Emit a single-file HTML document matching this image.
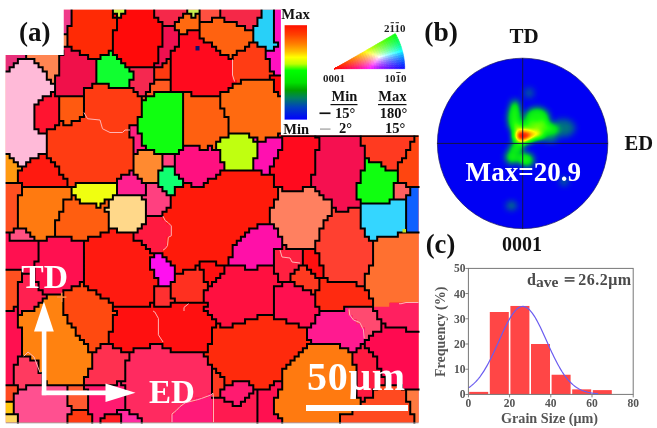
<!DOCTYPE html><html><head><meta charset="utf-8"><style>html,body{margin:0;padding:0;background:#fff;width:657px;height:428px;overflow:hidden}svg{display:block;filter:blur(0.4px)}text{font-family:'Liberation Serif',serif;font-weight:bold}</style></head><body>
<svg width="657" height="428" viewBox="0 0 657 428">
<defs>
<filter id="pf" x="0" y="0" width="1" height="1" color-interpolation-filters="sRGB"><feGaussianBlur stdDeviation="3.2"/><feComponentTransfer><feFuncR type="table" tableValues="0 0 0 0.1 0.45 1 1 1 1 0.85"/><feFuncG type="table" tableValues="0 0.4 0.88 1 1 1 0.7 0.3 0 0"/><feFuncB type="table" tableValues="0.96 0.55 0.12 0.04 0 0 0 0 0 0"/></feComponentTransfer></filter>
<clipPath id="pc"><circle cx="522.6" cy="143.4" r="85.2"/></clipPath>
<linearGradient id="cb" x1="0" y1="0" x2="0" y2="1"><stop offset="0" stop-color="#ff1000"/><stop offset="0.10" stop-color="#ff4000"/><stop offset="0.20" stop-color="#ff8000"/><stop offset="0.28" stop-color="#ffc000"/><stop offset="0.34" stop-color="#ffff00"/><stop offset="0.41" stop-color="#c0ff00"/><stop offset="0.48" stop-color="#00ff00"/><stop offset="0.61" stop-color="#00e000"/><stop offset="0.69" stop-color="#00a000"/><stop offset="0.77" stop-color="#008060"/><stop offset="0.87" stop-color="#0040c0"/><stop offset="1" stop-color="#0000ff"/></linearGradient>
<clipPath id="mc"><rect x="5.5" y="9.5" width="413" height="413"/></clipPath>
</defs>
<rect x="5.5" y="9.5" width="413" height="413" fill="#ff0d0d"/>
<g>
<path fill="#ff0d0d" d="M5.5 9.5h33.06v4.15h-33.06zM306.99 9.5h111.53v4.15h-111.53zM5.5 13.63h33.06v4.15h-33.06zM306.99 13.63h111.53v4.15h-111.53zM5.5 17.76h33.06v4.15h-33.06zM306.99 17.76h111.53v4.15h-111.53zM5.5 21.89h33.06v4.15h-33.06zM306.99 21.89h111.53v4.15h-111.53zM306.99 26.02h111.53v4.15h-111.53zM306.99 30.15h111.53v4.15h-111.53zM306.99 34.28h111.53v4.15h-111.53zM306.99 38.41h111.53v4.15h-111.53zM306.99 42.54h111.53v4.15h-111.53zM306.99 46.67h111.53v4.15h-111.53zM306.99 50.8h111.53v4.15h-111.53zM306.99 54.93h111.53v4.15h-111.53zM306.99 59.06h111.53v4.15h-111.53zM306.99 63.19h111.53v4.15h-111.53zM306.99 67.32h111.53v4.15h-111.53zM306.99 71.45h111.53v4.15h-111.53zM306.99 75.58h111.53v4.15h-111.53zM306.99 79.71h111.53v4.15h-111.53zM306.99 83.84h111.53v4.15h-111.53zM306.99 87.97h111.53v4.15h-111.53zM306.99 92.1h111.53v4.15h-111.53zM306.99 96.23h111.53v4.15h-111.53zM306.99 100.36h111.53v4.15h-111.53zM306.99 104.49h111.53v4.15h-111.53z"/>
<path fill="#f03a8a" d="M38.54 9.5h33.06v4.15h-33.06zM38.54 13.63h33.06v4.15h-33.06zM38.54 17.76h33.06v4.15h-33.06zM38.54 21.89h33.06v4.15h-33.06zM38.54 26.02h28.93v4.15h-28.93zM42.67 30.15h24.8v4.15h-24.8z"/>
<path fill="#ff2a05" d="M71.58 9.5h41.32v4.15h-41.32zM71.58 13.63h41.32v4.15h-41.32zM71.58 17.76h45.45v4.15h-45.45zM71.58 21.89h45.45v4.15h-45.45zM67.45 26.02h49.58v4.15h-49.58zM67.45 30.15h45.45v4.15h-45.45zM67.45 34.28h45.45v4.15h-45.45zM67.45 38.41h45.45v4.15h-45.45zM67.45 42.54h45.45v4.15h-45.45zM71.58 46.67h41.32v4.15h-41.32zM79.84 50.8h28.93v4.15h-28.93zM88.1 54.93h12.41v4.15h-12.41z"/>
<path fill="#c8f040" d="M112.88 9.5h12.41v4.15h-12.41zM117.01 13.63h4.15v4.15h-4.15z"/>
<path fill="#ff0a0a" d="M125.27 9.5h28.93v4.15h-28.93zM112.88 13.63h4.15v4.15h-4.15zM121.14 13.63h33.06v4.15h-33.06zM117.01 17.76h41.32v4.15h-41.32zM117.01 21.89h45.45v4.15h-45.45zM117.01 26.02h45.45v4.15h-45.45zM112.88 30.15h49.58v4.15h-49.58zM112.88 34.28h49.58v4.15h-49.58zM112.88 38.41h49.58v4.15h-49.58zM112.88 42.54h49.58v4.15h-49.58zM112.88 46.67h45.45v4.15h-45.45zM112.88 50.8h45.45v4.15h-45.45zM117.01 54.93h41.32v4.15h-41.32zM121.14 59.06h37.19v4.15h-37.19zM125.27 63.19h28.93v4.15h-28.93zM269.82 75.58h37.19v4.15h-37.19zM273.95 79.71h33.06v4.15h-33.06zM273.95 83.84h33.06v4.15h-33.06zM273.95 87.97h33.06v4.15h-33.06zM278.08 92.1h28.93v4.15h-28.93z"/>
<path fill="#f5284a" d="M154.18 9.5h33.06v4.15h-33.06zM154.18 13.63h28.93v4.15h-28.93zM158.31 17.76h20.67v4.15h-20.67zM162.44 21.89h12.41v4.15h-12.41z"/>
<path fill="#c8f050" d="M187.22 9.5h12.41v4.15h-12.41zM191.35 13.63h4.15v4.15h-4.15z"/>
<path fill="#ff5040" d="M199.61 9.5h20.67v4.15h-20.67zM199.61 13.63h20.67v4.15h-20.67zM199.61 17.76h12.41v4.15h-12.41z"/>
<path fill="#f52848" d="M220.26 9.5h41.32v4.15h-41.32zM220.26 13.63h41.32v4.15h-41.32zM224.39 17.76h33.06v4.15h-33.06zM236.78 21.89h20.67v4.15h-20.67zM245.04 26.02h8.28v4.15h-8.28z"/>
<path fill="#28d0f8" d="M261.56 9.5h12.41v4.15h-12.41zM261.56 13.63h12.41v4.15h-12.41zM257.43 17.76h16.54v4.15h-16.54zM257.43 21.89h16.54v4.15h-16.54zM253.3 26.02h20.67v4.15h-20.67zM253.3 30.15h20.67v4.15h-20.67zM253.3 34.28h20.67v4.15h-20.67zM253.3 38.41h20.67v4.15h-20.67zM257.43 42.54h20.67v4.15h-20.67zM265.69 46.67h8.28v4.15h-8.28z"/>
<path fill="#ff10c0" d="M273.95 9.5h33.06v4.15h-33.06zM273.95 13.63h33.06v4.15h-33.06zM273.95 17.76h33.06v4.15h-33.06zM273.95 21.89h33.06v4.15h-33.06zM273.95 26.02h33.06v4.15h-33.06zM273.95 30.15h33.06v4.15h-33.06zM273.95 34.28h33.06v4.15h-33.06zM273.95 38.41h33.06v4.15h-33.06zM278.08 42.54h28.93v4.15h-28.93zM273.95 46.67h33.06v4.15h-33.06zM265.69 50.8h41.32v4.15h-41.32zM265.69 54.93h41.32v4.15h-41.32zM269.82 59.06h37.19v4.15h-37.19zM269.82 63.19h37.19v4.15h-37.19zM269.82 67.32h37.19v4.15h-37.19zM273.95 71.45h33.06v4.15h-33.06z"/>
<path fill="#ff6a10" d="M183.09 13.63h8.28v4.15h-8.28zM195.48 13.63h4.15v4.15h-4.15zM178.96 17.76h20.67v4.15h-20.67zM174.83 21.89h24.8v4.15h-24.8zM174.83 26.02h24.8v4.15h-24.8zM178.96 30.15h8.28v4.15h-8.28zM240.91 79.71h33.06v4.15h-33.06zM232.65 83.84h41.32v4.15h-41.32zM228.52 87.97h45.45v4.15h-45.45zM220.26 92.1h57.84v4.15h-57.84zM220.26 96.23h86.75v4.15h-86.75zM220.26 100.36h86.75v4.15h-86.75zM220.26 104.49h86.75v4.15h-86.75zM224.39 108.62h78.49v4.15h-78.49zM224.39 112.75h74.36v4.15h-74.36zM228.52 116.88h66.1v4.15h-66.1zM228.52 121.01h61.97v4.15h-61.97zM228.52 125.14h57.84v4.15h-57.84zM228.52 129.27h53.71v4.15h-53.71zM249.17 133.4h28.93v4.15h-28.93zM257.43 137.53h8.28v4.15h-8.28z"/>
<path fill="#ff6210" d="M212 17.76h12.41v4.15h-12.41zM199.61 21.89h37.19v4.15h-37.19zM199.61 26.02h45.45v4.15h-45.45zM199.61 30.15h53.71v4.15h-53.71zM199.61 34.28h53.71v4.15h-53.71zM203.74 38.41h49.58v4.15h-49.58zM212 42.54h37.19v4.15h-37.19zM216.13 46.67h28.93v4.15h-28.93zM220.26 50.8h16.54v4.15h-16.54zM228.52 54.93h4.15v4.15h-4.15z"/>
<path fill="#e8307a" d="M5.5 26.02h20.67v4.15h-20.67zM5.5 30.15h20.67v4.15h-20.67zM5.5 34.28h20.67v4.15h-20.67zM5.5 38.41h20.67v4.15h-20.67zM5.5 42.54h20.67v4.15h-20.67zM5.5 46.67h20.67v4.15h-20.67zM5.5 50.8h20.67v4.15h-20.67zM5.5 54.93h20.67v4.15h-20.67zM5.5 59.06h12.41v4.15h-12.41zM5.5 63.19h8.28v4.15h-8.28zM5.5 67.32h4.15v4.15h-4.15z"/>
<path fill="#ff8552" d="M26.15 26.02h12.41v4.15h-12.41zM26.15 30.15h16.54v4.15h-16.54zM26.15 34.28h41.32v4.15h-41.32zM26.15 38.41h41.32v4.15h-41.32zM26.15 42.54h41.32v4.15h-41.32zM26.15 46.67h33.06v4.15h-33.06zM26.15 50.8h37.19v4.15h-37.19zM26.15 54.93h33.06v4.15h-33.06zM34.41 59.06h24.8v4.15h-24.8zM38.54 63.19h20.67v4.15h-20.67zM42.67 67.32h16.54v4.15h-16.54zM46.8 71.45h12.41v4.15h-12.41zM46.8 75.58h8.28v4.15h-8.28zM50.93 79.71h4.15v4.15h-4.15z"/>
<path fill="#f01050" d="M162.44 26.02h12.41v4.15h-12.41zM162.44 30.15h16.54v4.15h-16.54zM162.44 34.28h16.54v4.15h-16.54zM162.44 38.41h16.54v4.15h-16.54zM162.44 42.54h16.54v4.15h-16.54zM158.31 46.67h16.54v4.15h-16.54zM158.31 50.8h12.41v4.15h-12.41zM158.31 54.93h12.41v4.15h-12.41zM158.31 59.06h8.28v4.15h-8.28zM154.18 63.19h8.28v4.15h-8.28z"/>
<path fill="#ff0a1e" d="M187.22 30.15h12.41v4.15h-12.41zM178.96 34.28h20.67v4.15h-20.67zM178.96 38.41h24.8v4.15h-24.8zM178.96 42.54h33.06v4.15h-33.06zM174.83 46.67h41.32v4.15h-41.32zM170.7 50.8h49.58v4.15h-49.58zM170.7 54.93h57.84v4.15h-57.84zM170.7 59.06h61.97v4.15h-61.97zM170.7 63.19h61.97v4.15h-61.97zM170.7 67.32h61.97v4.15h-61.97zM170.7 71.45h61.97v4.15h-61.97zM170.7 75.58h61.97v4.15h-61.97zM170.7 79.71h66.1v4.15h-66.1zM170.7 83.84h61.97v4.15h-61.97zM170.7 87.97h57.84v4.15h-57.84zM191.35 92.1h28.93v4.15h-28.93zM302.86 108.62h12.41v4.15h-12.41zM298.73 112.75h16.54v4.15h-16.54zM294.6 116.88h20.67v4.15h-20.67zM290.47 121.01h24.8v4.15h-24.8zM286.34 125.14h28.93v4.15h-28.93zM282.21 129.27h33.06v4.15h-33.06zM278.08 133.4h37.19v4.15h-37.19zM282.21 137.53h37.19v4.15h-37.19zM282.21 141.66h37.19v4.15h-37.19zM282.21 145.79h37.19v4.15h-37.19zM278.08 149.92h37.19v4.15h-37.19zM278.08 154.05h37.19v4.15h-37.19zM273.95 158.18h41.32v4.15h-41.32zM273.95 162.31h41.32v4.15h-41.32zM269.82 166.44h45.45v4.15h-45.45zM269.82 170.57h45.45v4.15h-45.45zM273.95 174.7h37.19v4.15h-37.19zM273.95 178.83h37.19v4.15h-37.19zM273.95 182.96h37.19v4.15h-37.19zM282.21 187.09h20.67v4.15h-20.67z"/>
<path fill="#ff3c14" d="M249.17 42.54h8.28v4.15h-8.28zM245.04 46.67h20.67v4.15h-20.67zM236.78 50.8h28.93v4.15h-28.93zM232.65 54.93h33.06v4.15h-33.06zM232.65 59.06h37.19v4.15h-37.19zM232.65 63.19h37.19v4.15h-37.19zM232.65 67.32h37.19v4.15h-37.19zM232.65 71.45h41.32v4.15h-41.32zM232.65 75.58h37.19v4.15h-37.19zM236.78 79.71h4.15v4.15h-4.15z"/>
<path fill="#f0104a" d="M59.19 46.67h12.41v4.15h-12.41zM63.32 50.8h16.54v4.15h-16.54zM59.19 54.93h28.93v4.15h-28.93zM59.19 59.06h37.19v4.15h-37.19zM59.19 63.19h37.19v4.15h-37.19zM59.19 67.32h37.19v4.15h-37.19zM59.19 71.45h37.19v4.15h-37.19zM55.06 75.58h41.32v4.15h-41.32zM55.06 79.71h41.32v4.15h-41.32zM55.06 83.84h37.19v4.15h-37.19zM55.06 87.97h28.93v4.15h-28.93zM55.06 92.1h28.93v4.15h-28.93z"/>
<path fill="#10ff30" d="M108.75 50.8h4.15v4.15h-4.15zM100.49 54.93h16.54v4.15h-16.54zM96.36 59.06h24.8v4.15h-24.8zM96.36 63.19h28.93v4.15h-28.93zM96.36 67.32h33.06v4.15h-33.06zM96.36 71.45h37.19v4.15h-37.19zM96.36 75.58h37.19v4.15h-37.19zM96.36 79.71h33.06v4.15h-33.06zM108.75 83.84h20.67v4.15h-20.67z"/>
<path fill="#ffbad8" d="M17.89 59.06h16.54v4.15h-16.54zM13.76 63.19h24.8v4.15h-24.8zM9.63 67.32h33.06v4.15h-33.06zM5.5 71.45h41.32v4.15h-41.32zM5.5 75.58h41.32v4.15h-41.32zM5.5 79.71h45.45v4.15h-45.45zM5.5 83.84h49.58v4.15h-49.58zM5.5 87.97h49.58v4.15h-49.58zM5.5 92.1h45.45v4.15h-45.45zM5.5 96.23h37.19v4.15h-37.19zM5.5 100.36h33.06v4.15h-33.06zM5.5 104.49h28.93v4.15h-28.93zM5.5 108.62h28.93v4.15h-28.93zM5.5 112.75h28.93v4.15h-28.93zM5.5 116.88h28.93v4.15h-28.93zM5.5 121.01h28.93v4.15h-28.93zM5.5 125.14h28.93v4.15h-28.93zM5.5 129.27h33.06v4.15h-33.06zM5.5 133.4h41.32v4.15h-41.32zM5.5 137.53h41.32v4.15h-41.32zM5.5 141.66h41.32v4.15h-41.32zM5.5 145.79h41.32v4.15h-41.32zM5.5 149.92h41.32v4.15h-41.32zM9.63 154.05h28.93v4.15h-28.93zM13.76 158.18h16.54v4.15h-16.54zM17.89 162.31h8.28v4.15h-8.28z"/>
<path fill="#ff3a10" d="M166.57 59.06h4.15v4.15h-4.15zM162.44 63.19h8.28v4.15h-8.28zM154.18 67.32h16.54v4.15h-16.54zM154.18 71.45h16.54v4.15h-16.54zM154.18 75.58h16.54v4.15h-16.54zM71.58 410.11h16.54v4.15h-16.54zM67.45 414.24h24.8v4.15h-24.8zM67.45 418.37h24.8v4.15h-24.8z"/>
<path fill="#f52850" d="M129.4 67.32h24.8v4.15h-24.8zM133.53 71.45h20.67v4.15h-20.67zM133.53 75.58h20.67v4.15h-20.67zM129.4 79.71h24.8v4.15h-24.8zM129.4 83.84h20.67v4.15h-20.67zM133.53 87.97h16.54v4.15h-16.54zM137.66 92.1h8.28v4.15h-8.28z"/>
<path fill="#ff5a20" d="M154.18 79.71h16.54v4.15h-16.54zM150.05 83.84h20.67v4.15h-20.67zM150.05 87.97h20.67v4.15h-20.67zM145.92 92.1h8.28v4.15h-8.28zM141.79 96.23h4.15v4.15h-4.15z"/>
<path fill="#ff3c12" d="M92.23 83.84h16.54v4.15h-16.54zM83.97 87.97h49.58v4.15h-49.58zM83.97 92.1h53.71v4.15h-53.71zM83.97 96.23h57.84v4.15h-57.84zM83.97 100.36h57.84v4.15h-57.84zM83.97 104.49h57.84v4.15h-57.84zM83.97 108.62h57.84v4.15h-57.84zM83.97 112.75h57.84v4.15h-57.84zM79.84 116.88h57.84v4.15h-57.84zM59.19 121.01h4.15v4.15h-4.15zM71.58 121.01h66.1v4.15h-66.1zM55.06 125.14h74.36v4.15h-74.36zM46.8 129.27h82.62v4.15h-82.62zM46.8 133.4h82.62v4.15h-82.62zM46.8 137.53h86.75v4.15h-86.75zM46.8 141.66h86.75v4.15h-86.75zM46.8 145.79h86.75v4.15h-86.75zM46.8 149.92h86.75v4.15h-86.75zM46.8 154.05h86.75v4.15h-86.75zM50.93 158.18h82.62v4.15h-82.62zM55.06 162.31h78.49v4.15h-78.49zM59.19 166.44h74.36v4.15h-74.36zM59.19 170.57h70.23v4.15h-70.23zM63.32 174.7h57.84v4.15h-57.84zM67.45 178.83h49.58v4.15h-49.58zM67.45 182.96h8.28v4.15h-8.28z"/>
<path fill="#ff1430" d="M50.93 92.1h4.15v4.15h-4.15zM42.67 96.23h16.54v4.15h-16.54zM38.54 100.36h20.67v4.15h-20.67zM34.41 104.49h24.8v4.15h-24.8zM34.41 108.62h24.8v4.15h-24.8zM34.41 112.75h24.8v4.15h-24.8zM34.41 116.88h24.8v4.15h-24.8zM34.41 121.01h24.8v4.15h-24.8zM34.41 125.14h20.67v4.15h-20.67zM38.54 129.27h8.28v4.15h-8.28z"/>
<path fill="#10ff10" d="M154.18 92.1h28.93v4.15h-28.93zM145.92 96.23h37.19v4.15h-37.19zM141.79 100.36h41.32v4.15h-41.32zM141.79 104.49h41.32v4.15h-41.32zM141.79 108.62h41.32v4.15h-41.32zM141.79 112.75h41.32v4.15h-41.32zM137.66 116.88h45.45v4.15h-45.45zM137.66 121.01h45.45v4.15h-45.45zM137.66 125.14h45.45v4.15h-45.45zM137.66 129.27h45.45v4.15h-45.45zM141.79 133.4h41.32v4.15h-41.32zM141.79 137.53h41.32v4.15h-41.32zM141.79 141.66h41.32v4.15h-41.32zM145.92 145.79h37.19v4.15h-37.19zM154.18 149.92h24.8v4.15h-24.8zM364.81 158.18h4.15v4.15h-4.15zM364.81 162.31h16.54v4.15h-16.54zM364.81 166.44h20.67v4.15h-20.67zM360.68 170.57h37.19v4.15h-37.19zM360.68 174.7h37.19v4.15h-37.19zM360.68 178.83h37.19v4.15h-37.19zM356.55 182.96h37.19v4.15h-37.19zM356.55 187.09h37.19v4.15h-37.19zM356.55 191.22h37.19v4.15h-37.19zM356.55 195.35h37.19v4.15h-37.19zM360.68 199.48h28.93v4.15h-28.93z"/>
<path fill="#ff6010" d="M183.09 92.1h8.28v4.15h-8.28zM183.09 96.23h37.19v4.15h-37.19zM183.09 100.36h37.19v4.15h-37.19zM183.09 104.49h37.19v4.15h-37.19zM183.09 108.62h41.32v4.15h-41.32zM183.09 112.75h41.32v4.15h-41.32zM183.09 116.88h45.45v4.15h-45.45zM183.09 121.01h45.45v4.15h-45.45zM183.09 125.14h45.45v4.15h-45.45zM183.09 129.27h45.45v4.15h-45.45zM183.09 133.4h45.45v4.15h-45.45zM183.09 137.53h37.19v4.15h-37.19zM183.09 141.66h33.06v4.15h-33.06zM199.61 145.79h8.28v4.15h-8.28zM212 145.79h4.15v4.15h-4.15z"/>
<path fill="#ff5a10" d="M59.19 96.23h24.8v4.15h-24.8zM59.19 100.36h24.8v4.15h-24.8zM59.19 104.49h24.8v4.15h-24.8zM59.19 108.62h24.8v4.15h-24.8zM59.19 112.75h24.8v4.15h-24.8zM59.19 116.88h20.67v4.15h-20.67zM63.32 121.01h8.28v4.15h-8.28z"/>
<path fill="#f51050" d="M315.25 108.62h45.45v4.15h-45.45zM315.25 112.75h45.45v4.15h-45.45zM315.25 116.88h45.45v4.15h-45.45zM315.25 121.01h45.45v4.15h-45.45zM315.25 125.14h45.45v4.15h-45.45zM315.25 129.27h45.45v4.15h-45.45zM315.25 133.4h45.45v4.15h-45.45zM319.38 137.53h41.32v4.15h-41.32zM319.38 141.66h41.32v4.15h-41.32zM319.38 145.79h45.45v4.15h-45.45zM315.25 149.92h49.58v4.15h-49.58zM315.25 154.05h49.58v4.15h-49.58zM315.25 158.18h49.58v4.15h-49.58zM315.25 162.31h49.58v4.15h-49.58zM315.25 166.44h49.58v4.15h-49.58zM315.25 170.57h45.45v4.15h-45.45zM311.12 174.7h49.58v4.15h-49.58zM311.12 178.83h49.58v4.15h-49.58zM311.12 182.96h45.45v4.15h-45.45zM315.25 187.09h41.32v4.15h-41.32zM319.38 191.22h37.19v4.15h-37.19zM323.51 195.35h33.06v4.15h-33.06zM331.77 199.48h28.93v4.15h-28.93zM331.77 203.61h28.93v4.15h-28.93zM335.9 207.74h12.41v4.15h-12.41z"/>
<path fill="#ff3a20" d="M360.68 108.62h53.71v4.15h-53.71zM360.68 112.75h53.71v4.15h-53.71zM360.68 116.88h53.71v4.15h-53.71zM360.68 121.01h53.71v4.15h-53.71zM360.68 125.14h53.71v4.15h-53.71zM360.68 129.27h53.71v4.15h-53.71zM360.68 133.4h53.71v4.15h-53.71zM360.68 137.53h53.71v4.15h-53.71zM360.68 141.66h49.58v4.15h-49.58zM364.81 145.79h45.45v4.15h-45.45zM364.81 149.92h41.32v4.15h-41.32zM364.81 154.05h41.32v4.15h-41.32zM368.94 158.18h33.06v4.15h-33.06zM381.33 162.31h16.54v4.15h-16.54zM385.46 166.44h12.41v4.15h-12.41zM298.73 265.56h8.28v4.15h-8.28zM294.6 269.69h16.54v4.15h-16.54zM290.47 273.82h24.8v4.15h-24.8zM290.47 277.95h28.93v4.15h-28.93zM294.6 282.08h24.8v4.15h-24.8zM302.86 286.21h16.54v4.15h-16.54zM311.12 290.34h4.15v4.15h-4.15zM212 368.81h4.15v4.15h-4.15zM212 372.94h8.28v4.15h-8.28zM212 377.07h12.41v4.15h-12.41zM212 381.2h12.41v4.15h-12.41zM212 385.33h12.41v4.15h-12.41zM212 389.46h8.28v4.15h-8.28zM212 393.59h8.28v4.15h-8.28z"/>
<path fill="#ff4510" d="M414.37 108.62h4.15v4.15h-4.15zM414.37 112.75h4.15v4.15h-4.15zM414.37 116.88h4.15v4.15h-4.15zM414.37 121.01h4.15v4.15h-4.15zM414.37 125.14h4.15v4.15h-4.15zM414.37 129.27h4.15v4.15h-4.15zM414.37 133.4h4.15v4.15h-4.15zM414.37 137.53h4.15v4.15h-4.15zM410.24 141.66h8.28v4.15h-8.28zM410.24 145.79h8.28v4.15h-8.28zM406.11 149.92h12.41v4.15h-12.41zM406.11 154.05h12.41v4.15h-12.41zM401.98 158.18h16.54v4.15h-16.54zM397.85 162.31h20.67v4.15h-20.67zM397.85 166.44h20.67v4.15h-20.67zM397.85 170.57h20.67v4.15h-20.67zM397.85 174.7h20.67v4.15h-20.67zM397.85 178.83h20.67v4.15h-20.67zM406.11 182.96h12.41v4.15h-12.41z"/>
<path fill="#ff2080" d="M129.4 125.14h8.28v4.15h-8.28zM129.4 129.27h8.28v4.15h-8.28zM129.4 133.4h12.41v4.15h-12.41zM133.53 137.53h8.28v4.15h-8.28zM133.53 141.66h8.28v4.15h-8.28zM133.53 145.79h12.41v4.15h-12.41zM133.53 149.92h4.15v4.15h-4.15z"/>
<path fill="#c0ff10" d="M228.52 133.4h20.67v4.15h-20.67zM220.26 137.53h33.06v4.15h-33.06zM216.13 141.66h41.32v4.15h-41.32zM216.13 145.79h41.32v4.15h-41.32zM220.26 149.92h37.19v4.15h-37.19zM220.26 154.05h37.19v4.15h-37.19zM220.26 158.18h33.06v4.15h-33.06zM224.39 162.31h28.93v4.15h-28.93zM224.39 166.44h28.93v4.15h-28.93z"/>
<path fill="#ff10b0" d="M253.3 137.53h4.15v4.15h-4.15zM265.69 137.53h16.54v4.15h-16.54zM257.43 141.66h24.8v4.15h-24.8zM257.43 145.79h24.8v4.15h-24.8zM257.43 149.92h20.67v4.15h-20.67zM257.43 154.05h20.67v4.15h-20.67zM253.3 158.18h20.67v4.15h-20.67zM253.3 162.31h20.67v4.15h-20.67zM253.3 166.44h16.54v4.15h-16.54zM261.56 170.57h8.28v4.15h-8.28z"/>
<path fill="#ff1080" d="M183.09 145.79h16.54v4.15h-16.54zM207.87 145.79h4.15v4.15h-4.15zM178.96 149.92h41.32v4.15h-41.32zM174.83 154.05h45.45v4.15h-45.45zM174.83 158.18h45.45v4.15h-45.45zM174.83 162.31h49.58v4.15h-49.58zM174.83 166.44h49.58v4.15h-49.58zM174.83 170.57h45.45v4.15h-45.45zM178.96 174.7h37.19v4.15h-37.19zM183.09 178.83h24.8v4.15h-24.8zM191.35 182.96h12.41v4.15h-12.41z"/>
<path fill="#ff8a30" d="M137.66 149.92h16.54v4.15h-16.54zM133.53 154.05h28.93v4.15h-28.93zM133.53 158.18h28.93v4.15h-28.93zM133.53 162.31h28.93v4.15h-28.93zM133.53 166.44h28.93v4.15h-28.93zM133.53 170.57h24.8v4.15h-24.8zM137.66 174.7h20.67v4.15h-20.67zM141.79 178.83h16.54v4.15h-16.54z"/>
<path fill="#ff9a10" d="M5.5 154.05h4.15v4.15h-4.15zM5.5 158.18h8.28v4.15h-8.28zM5.5 162.31h12.41v4.15h-12.41zM5.5 166.44h16.54v4.15h-16.54zM5.5 170.57h12.41v4.15h-12.41zM5.5 174.7h12.41v4.15h-12.41zM5.5 178.83h12.41v4.15h-12.41z"/>
<path fill="#ff1a10" d="M38.54 154.05h8.28v4.15h-8.28zM30.28 158.18h20.67v4.15h-20.67zM26.15 162.31h28.93v4.15h-28.93zM22.02 166.44h37.19v4.15h-37.19zM17.89 170.57h41.32v4.15h-41.32zM17.89 174.7h45.45v4.15h-45.45zM17.89 178.83h49.58v4.15h-49.58zM22.02 182.96h45.45v4.15h-45.45zM108.75 228.39h8.28v4.15h-8.28zM100.49 232.52h33.06v4.15h-33.06zM88.1 236.65h45.45v4.15h-45.45zM83.97 240.78h57.84v4.15h-57.84zM83.97 244.91h61.97v4.15h-61.97zM83.97 249.04h66.1v4.15h-66.1zM83.97 253.17h70.23v4.15h-70.23zM83.97 257.3h66.1v4.15h-66.1zM83.97 261.43h66.1v4.15h-66.1zM83.97 265.56h66.1v4.15h-66.1zM83.97 269.69h70.23v4.15h-70.23zM83.97 273.82h70.23v4.15h-70.23zM83.97 277.95h74.36v4.15h-74.36zM83.97 282.08h74.36v4.15h-74.36zM88.1 286.21h66.1v4.15h-66.1zM96.36 290.34h57.84v4.15h-57.84zM100.49 294.47h53.71v4.15h-53.71zM108.75 298.6h45.45v4.15h-45.45zM112.88 302.73h37.19v4.15h-37.19z"/>
<path fill="#ff4080" d="M162.44 154.05h12.41v4.15h-12.41zM162.44 158.18h12.41v4.15h-12.41zM162.44 162.31h12.41v4.15h-12.41zM145.92 182.96h12.41v4.15h-12.41zM145.92 187.09h16.54v4.15h-16.54zM145.92 191.22h20.67v4.15h-20.67zM141.79 195.35h28.93v4.15h-28.93zM145.92 199.48h24.8v4.15h-24.8zM145.92 203.61h24.8v4.15h-24.8zM145.92 207.74h20.67v4.15h-20.67zM145.92 211.87h16.54v4.15h-16.54z"/>
<path fill="#10ff70" d="M162.44 166.44h12.41v4.15h-12.41zM158.31 170.57h16.54v4.15h-16.54zM158.31 174.7h20.67v4.15h-20.67zM158.31 178.83h24.8v4.15h-24.8zM158.31 182.96h24.8v4.15h-24.8zM162.44 187.09h12.41v4.15h-12.41zM166.57 191.22h8.28v4.15h-8.28z"/>
<path fill="#ff2090" d="M129.4 170.57h4.15v4.15h-4.15zM121.14 174.7h16.54v4.15h-16.54zM117.01 178.83h24.8v4.15h-24.8zM117.01 182.96h28.93v4.15h-28.93zM117.01 187.09h28.93v4.15h-28.93zM117.01 191.22h28.93v4.15h-28.93z"/>
<path fill="#ff1a0a" d="M220.26 170.57h41.32v4.15h-41.32zM216.13 174.7h57.84v4.15h-57.84zM207.87 178.83h66.1v4.15h-66.1zM183.09 182.96h8.28v4.15h-8.28zM203.74 182.96h70.23v4.15h-70.23zM174.83 187.09h103.27v4.15h-103.27zM174.83 191.22h103.27v4.15h-103.27zM170.7 195.35h107.4v4.15h-107.4zM170.7 199.48h103.27v4.15h-103.27zM170.7 203.61h103.27v4.15h-103.27zM166.57 207.74h103.27v4.15h-103.27zM162.44 211.87h107.4v4.15h-107.4zM162.44 216h107.4v4.15h-107.4zM166.57 220.13h103.27v4.15h-103.27zM170.7 224.26h86.75v4.15h-86.75zM170.7 228.39h78.49v4.15h-78.49zM170.7 232.52h74.36v4.15h-74.36zM166.57 236.65h74.36v4.15h-74.36zM166.57 240.78h70.23v4.15h-70.23zM166.57 244.91h66.1v4.15h-66.1zM162.44 249.04h70.23v4.15h-70.23zM162.44 253.17h70.23v4.15h-70.23zM166.57 257.3h61.97v4.15h-61.97zM170.7 261.43h28.93v4.15h-28.93zM216.13 261.43h12.41v4.15h-12.41zM174.83 265.56h20.67v4.15h-20.67zM174.83 269.69h8.28v4.15h-8.28z"/>
<path fill="#ff5020" d="M5.5 182.96h16.54v4.15h-16.54zM5.5 187.09h16.54v4.15h-16.54zM5.5 191.22h16.54v4.15h-16.54zM5.5 195.35h12.41v4.15h-12.41zM5.5 199.48h12.41v4.15h-12.41zM5.5 203.61h12.41v4.15h-12.41zM5.5 207.74h12.41v4.15h-12.41zM5.5 211.87h12.41v4.15h-12.41zM5.5 216h12.41v4.15h-12.41zM5.5 220.13h12.41v4.15h-12.41zM5.5 224.26h12.41v4.15h-12.41zM5.5 228.39h8.28v4.15h-8.28zM5.5 269.69h16.54v4.15h-16.54zM5.5 273.82h16.54v4.15h-16.54zM5.5 277.95h16.54v4.15h-16.54zM5.5 282.08h12.41v4.15h-12.41zM5.5 286.21h12.41v4.15h-12.41zM5.5 290.34h12.41v4.15h-12.41zM5.5 294.47h12.41v4.15h-12.41zM5.5 298.6h12.41v4.15h-12.41zM5.5 302.73h12.41v4.15h-12.41zM5.5 306.86h8.28v4.15h-8.28z"/>
<path fill="#f0ff10" d="M75.71 182.96h41.32v4.15h-41.32zM71.58 187.09h45.45v4.15h-45.45zM71.58 191.22h45.45v4.15h-45.45zM75.71 195.35h37.19v4.15h-37.19zM79.84 199.48h24.8v4.15h-24.8zM96.36 203.61h4.15v4.15h-4.15z"/>
<path fill="#ff6060" d="M393.72 182.96h12.41v4.15h-12.41zM393.72 187.09h16.54v4.15h-16.54zM393.72 191.22h16.54v4.15h-16.54zM393.72 195.35h12.41v4.15h-12.41z"/>
<path fill="#ff7a10" d="M22.02 187.09h49.58v4.15h-49.58zM22.02 191.22h49.58v4.15h-49.58zM17.89 195.35h53.71v4.15h-53.71zM17.89 199.48h45.45v4.15h-45.45zM17.89 203.61h45.45v4.15h-45.45zM17.89 207.74h45.45v4.15h-45.45zM17.89 211.87h41.32v4.15h-41.32zM17.89 216h41.32v4.15h-41.32zM17.89 220.13h37.19v4.15h-37.19zM17.89 224.26h37.19v4.15h-37.19zM26.15 228.39h28.93v4.15h-28.93zM30.28 232.52h24.8v4.15h-24.8zM34.41 236.65h12.41v4.15h-12.41zM306.99 344.03h33.06v4.15h-33.06zM302.86 348.16h45.45v4.15h-45.45zM298.73 352.29h53.71v4.15h-53.71zM294.6 356.42h57.84v4.15h-57.84zM290.47 360.55h61.97v4.15h-61.97zM286.34 364.68h70.23v4.15h-70.23zM282.21 368.81h74.36v4.15h-74.36zM282.21 372.94h74.36v4.15h-74.36zM282.21 377.07h74.36v4.15h-74.36zM282.21 381.2h74.36v4.15h-74.36zM282.21 385.33h74.36v4.15h-74.36zM278.08 389.46h78.49v4.15h-78.49zM278.08 393.59h78.49v4.15h-78.49zM273.95 397.72h86.75v4.15h-86.75zM273.95 401.85h86.75v4.15h-86.75zM273.95 405.98h86.75v4.15h-86.75zM273.95 410.11h78.49v4.15h-78.49zM278.08 414.24h61.97v4.15h-61.97zM282.21 418.37h57.84v4.15h-57.84z"/>
<path fill="#ff8060" d="M278.08 187.09h4.15v4.15h-4.15zM302.86 187.09h12.41v4.15h-12.41zM278.08 191.22h41.32v4.15h-41.32zM278.08 195.35h45.45v4.15h-45.45zM273.95 199.48h57.84v4.15h-57.84zM273.95 203.61h57.84v4.15h-57.84zM269.82 207.74h61.97v4.15h-61.97zM269.82 211.87h61.97v4.15h-61.97zM269.82 216h57.84v4.15h-57.84zM269.82 220.13h53.71v4.15h-53.71zM273.95 224.26h49.58v4.15h-49.58zM278.08 228.39h41.32v4.15h-41.32zM278.08 232.52h41.32v4.15h-41.32zM282.21 236.65h37.19v4.15h-37.19zM282.21 240.78h33.06v4.15h-33.06zM286.34 244.91h28.93v4.15h-28.93z"/>
<path fill="#1060ff" d="M410.24 187.09h8.28v4.15h-8.28zM410.24 191.22h8.28v4.15h-8.28zM406.11 195.35h12.41v4.15h-12.41zM406.11 199.48h12.41v4.15h-12.41zM406.11 203.61h12.41v4.15h-12.41zM406.11 207.74h12.41v4.15h-12.41zM406.11 211.87h12.41v4.15h-12.41zM406.11 216h12.41v4.15h-12.41zM406.11 220.13h12.41v4.15h-12.41zM406.11 224.26h12.41v4.15h-12.41zM406.11 228.39h12.41v4.15h-12.41z"/>
<path fill="#ff5e10" d="M71.58 195.35h4.15v4.15h-4.15zM63.32 199.48h16.54v4.15h-16.54zM104.62 199.48h4.15v4.15h-4.15zM63.32 203.61h33.06v4.15h-33.06zM100.49 203.61h8.28v4.15h-8.28zM63.32 207.74h41.32v4.15h-41.32zM59.19 211.87h49.58v4.15h-49.58zM59.19 216h49.58v4.15h-49.58zM55.06 220.13h53.71v4.15h-53.71zM55.06 224.26h53.71v4.15h-53.71zM55.06 228.39h53.71v4.15h-53.71zM55.06 232.52h45.45v4.15h-45.45zM71.58 236.65h16.54v4.15h-16.54z"/>
<path fill="#ffd88a" d="M112.88 195.35h28.93v4.15h-28.93zM108.75 199.48h37.19v4.15h-37.19zM108.75 203.61h37.19v4.15h-37.19zM104.62 207.74h41.32v4.15h-41.32zM108.75 211.87h37.19v4.15h-37.19zM108.75 216h37.19v4.15h-37.19zM108.75 220.13h37.19v4.15h-37.19zM108.75 224.26h33.06v4.15h-33.06zM117.01 228.39h20.67v4.15h-20.67z"/>
<path fill="#34d6ff" d="M389.59 199.48h16.54v4.15h-16.54zM360.68 203.61h45.45v4.15h-45.45zM360.68 207.74h45.45v4.15h-45.45zM360.68 211.87h45.45v4.15h-45.45zM360.68 216h45.45v4.15h-45.45zM360.68 220.13h45.45v4.15h-45.45zM360.68 224.26h45.45v4.15h-45.45zM364.81 228.39h41.32v4.15h-41.32zM364.81 232.52h33.06v4.15h-33.06zM368.94 236.65h8.28v4.15h-8.28z"/>
<path fill="#ff4030" d="M331.77 207.74h4.15v4.15h-4.15zM348.29 207.74h12.41v4.15h-12.41zM331.77 211.87h28.93v4.15h-28.93zM327.64 216h33.06v4.15h-33.06zM323.51 220.13h37.19v4.15h-37.19zM323.51 224.26h37.19v4.15h-37.19zM319.38 228.39h45.45v4.15h-45.45zM319.38 232.52h45.45v4.15h-45.45zM319.38 236.65h49.58v4.15h-49.58zM315.25 240.78h57.84v4.15h-57.84zM315.25 244.91h57.84v4.15h-57.84zM315.25 249.04h57.84v4.15h-57.84zM319.38 253.17h53.71v4.15h-53.71zM319.38 257.3h53.71v4.15h-53.71zM319.38 261.43h53.71v4.15h-53.71zM323.51 265.56h45.45v4.15h-45.45zM323.51 269.69h45.45v4.15h-45.45zM323.51 273.82h41.32v4.15h-41.32zM327.64 277.95h37.19v4.15h-37.19zM356.55 282.08h8.28v4.15h-8.28z"/>
<path fill="#ff1a40" d="M145.92 216h16.54v4.15h-16.54zM145.92 220.13h20.67v4.15h-20.67zM141.79 224.26h28.93v4.15h-28.93zM137.66 228.39h33.06v4.15h-33.06zM133.53 232.52h37.19v4.15h-37.19zM133.53 236.65h33.06v4.15h-33.06zM141.79 240.78h24.8v4.15h-24.8zM145.92 244.91h20.67v4.15h-20.67zM150.05 249.04h12.41v4.15h-12.41zM360.68 344.03h4.15v4.15h-4.15zM356.55 348.16h12.41v4.15h-12.41zM352.42 352.29h20.67v4.15h-20.67zM352.42 356.42h24.8v4.15h-24.8zM352.42 360.55h24.8v4.15h-24.8zM356.55 364.68h20.67v4.15h-20.67zM356.55 368.81h24.8v4.15h-24.8zM356.55 372.94h24.8v4.15h-24.8zM356.55 377.07h28.93v4.15h-28.93zM356.55 381.2h28.93v4.15h-28.93zM356.55 385.33h20.67v4.15h-20.67zM356.55 389.46h16.54v4.15h-16.54zM356.55 393.59h16.54v4.15h-16.54zM360.68 397.72h4.15v4.15h-4.15z"/>
<path fill="#ff10a8" d="M257.43 224.26h16.54v4.15h-16.54zM249.17 228.39h28.93v4.15h-28.93zM245.04 232.52h33.06v4.15h-33.06zM240.91 236.65h41.32v4.15h-41.32zM236.78 240.78h45.45v4.15h-45.45zM232.65 244.91h49.58v4.15h-49.58zM232.65 249.04h41.32v4.15h-41.32zM232.65 253.17h41.32v4.15h-41.32zM228.52 257.3h45.45v4.15h-45.45zM228.52 261.43h45.45v4.15h-45.45zM245.04 265.56h12.41v4.15h-12.41z"/>
<path fill="#ff5080" d="M13.76 228.39h12.41v4.15h-12.41zM9.63 232.52h20.67v4.15h-20.67zM9.63 236.65h24.8v4.15h-24.8z"/>
<path fill="#ff1050" d="M5.5 232.52h4.15v4.15h-4.15zM5.5 236.65h4.15v4.15h-4.15zM46.8 236.65h24.8v4.15h-24.8zM5.5 240.78h78.49v4.15h-78.49zM5.5 244.91h78.49v4.15h-78.49zM5.5 249.04h78.49v4.15h-78.49zM5.5 253.17h78.49v4.15h-78.49zM5.5 257.3h78.49v4.15h-78.49zM5.5 261.43h78.49v4.15h-78.49zM5.5 265.56h78.49v4.15h-78.49zM22.02 269.69h61.97v4.15h-61.97zM34.41 273.82h49.58v4.15h-49.58zM34.41 277.95h49.58v4.15h-49.58zM38.54 282.08h41.32v4.15h-41.32zM282.21 282.08h12.41v4.15h-12.41zM38.54 286.21h33.06v4.15h-33.06zM273.95 286.21h28.93v4.15h-28.93zM42.67 290.34h20.67v4.15h-20.67zM273.95 290.34h37.19v4.15h-37.19zM273.95 294.47h41.32v4.15h-41.32zM273.95 298.6h41.32v4.15h-41.32zM273.95 302.73h41.32v4.15h-41.32zM13.76 306.86h4.15v4.15h-4.15zM273.95 306.86h45.45v4.15h-45.45zM5.5 310.99h12.41v4.15h-12.41zM273.95 310.99h45.45v4.15h-45.45zM5.5 315.12h12.41v4.15h-12.41zM273.95 315.12h41.32v4.15h-41.32zM5.5 319.25h12.41v4.15h-12.41zM286.34 319.25h28.93v4.15h-28.93zM5.5 323.38h12.41v4.15h-12.41zM298.73 323.38h12.41v4.15h-12.41zM5.5 327.51h16.54v4.15h-16.54zM5.5 331.64h16.54v4.15h-16.54zM5.5 335.77h16.54v4.15h-16.54zM5.5 339.9h16.54v4.15h-16.54zM5.5 344.03h16.54v4.15h-16.54zM5.5 348.16h16.54v4.15h-16.54zM5.5 352.29h16.54v4.15h-16.54zM5.5 356.42h12.41v4.15h-12.41zM5.5 360.55h12.41v4.15h-12.41zM5.5 364.68h8.28v4.15h-8.28zM5.5 368.81h8.28v4.15h-8.28zM5.5 372.94h8.28v4.15h-8.28zM5.5 377.07h8.28v4.15h-8.28zM5.5 381.2h8.28v4.15h-8.28zM273.95 381.2h8.28v4.15h-8.28zM269.82 385.33h12.41v4.15h-12.41zM257.43 389.46h20.67v4.15h-20.67zM257.43 393.59h20.67v4.15h-20.67zM257.43 397.72h16.54v4.15h-16.54zM257.43 401.85h16.54v4.15h-16.54zM257.43 405.98h16.54v4.15h-16.54zM257.43 410.11h16.54v4.15h-16.54zM257.43 414.24h20.67v4.15h-20.67zM257.43 418.37h24.8v4.15h-24.8z"/>
<path fill="#ff7030" d="M397.85 232.52h20.67v4.15h-20.67zM377.2 236.65h41.32v4.15h-41.32zM373.07 240.78h45.45v4.15h-45.45zM373.07 244.91h45.45v4.15h-45.45zM373.07 249.04h45.45v4.15h-45.45zM373.07 253.17h45.45v4.15h-45.45zM373.07 257.3h45.45v4.15h-45.45zM373.07 261.43h45.45v4.15h-45.45zM368.94 265.56h49.58v4.15h-49.58zM368.94 269.69h49.58v4.15h-49.58zM364.81 273.82h53.71v4.15h-53.71zM364.81 277.95h53.71v4.15h-53.71zM364.81 282.08h53.71v4.15h-53.71zM364.81 286.21h53.71v4.15h-53.71zM368.94 290.34h49.58v4.15h-49.58zM368.94 294.47h49.58v4.15h-49.58zM373.07 298.6h45.45v4.15h-45.45zM373.07 302.73h16.54v4.15h-16.54z"/>
<path fill="#ff2040" d="M282.21 244.91h4.15v4.15h-4.15zM273.95 249.04h28.93v4.15h-28.93zM273.95 253.17h28.93v4.15h-28.93zM273.95 257.3h28.93v4.15h-28.93zM273.95 261.43h28.93v4.15h-28.93zM273.95 265.56h24.8v4.15h-24.8zM273.95 269.69h20.67v4.15h-20.67zM278.08 273.82h12.41v4.15h-12.41zM278.08 277.95h12.41v4.15h-12.41z"/>
<path fill="#ff1010" d="M302.86 249.04h12.41v4.15h-12.41zM302.86 253.17h16.54v4.15h-16.54zM302.86 257.3h16.54v4.15h-16.54zM199.61 261.43h16.54v4.15h-16.54zM302.86 261.43h16.54v4.15h-16.54zM199.61 265.56h24.8v4.15h-24.8zM306.99 265.56h16.54v4.15h-16.54zM203.74 269.69h20.67v4.15h-20.67zM311.12 269.69h12.41v4.15h-12.41zM203.74 273.82h16.54v4.15h-16.54zM315.25 273.82h8.28v4.15h-8.28zM203.74 277.95h12.41v4.15h-12.41zM207.87 282.08h4.15v4.15h-4.15zM150.05 302.73h4.15v4.15h-4.15zM170.7 302.73h37.19v4.15h-37.19zM112.88 306.86h90.88v4.15h-90.88zM117.01 310.99h90.88v4.15h-90.88zM112.88 315.12h99.14v4.15h-99.14zM112.88 319.25h103.27v4.15h-103.27zM112.88 323.38h103.27v4.15h-103.27zM112.88 327.51h99.14v4.15h-99.14zM108.75 331.64h103.27v4.15h-103.27zM108.75 335.77h103.27v4.15h-103.27zM108.75 339.9h103.27v4.15h-103.27zM112.88 344.03h37.19v4.15h-37.19zM162.44 344.03h45.45v4.15h-45.45zM121.14 348.16h12.41v4.15h-12.41zM170.7 348.16h37.19v4.15h-37.19z"/>
<path fill="#ff10f0" d="M154.18 253.17h8.28v4.15h-8.28zM150.05 257.3h16.54v4.15h-16.54zM150.05 261.43h20.67v4.15h-20.67zM150.05 265.56h24.8v4.15h-24.8zM154.18 269.69h20.67v4.15h-20.67zM154.18 273.82h20.67v4.15h-20.67zM158.31 277.95h16.54v4.15h-16.54zM158.31 282.08h12.41v4.15h-12.41z"/>
<path fill="#ff3020" d="M195.48 265.56h4.15v4.15h-4.15zM183.09 269.69h20.67v4.15h-20.67zM174.83 273.82h28.93v4.15h-28.93zM174.83 277.95h28.93v4.15h-28.93zM170.7 282.08h37.19v4.15h-37.19zM170.7 286.21h37.19v4.15h-37.19zM170.7 290.34h33.06v4.15h-33.06zM170.7 294.47h33.06v4.15h-33.06zM174.83 298.6h28.93v4.15h-28.93z"/>
<path fill="#ff1040" d="M224.39 265.56h20.67v4.15h-20.67zM257.43 265.56h16.54v4.15h-16.54zM224.39 269.69h49.58v4.15h-49.58zM220.26 273.82h57.84v4.15h-57.84zM216.13 277.95h61.97v4.15h-61.97zM212 282.08h70.23v4.15h-70.23zM207.87 286.21h66.1v4.15h-66.1zM203.74 290.34h70.23v4.15h-70.23zM203.74 294.47h70.23v4.15h-70.23zM203.74 298.6h70.23v4.15h-70.23zM207.87 302.73h66.1v4.15h-66.1zM203.74 306.86h70.23v4.15h-70.23zM207.87 310.99h66.1v4.15h-66.1zM212 315.12h45.45v4.15h-45.45zM216.13 319.25h28.93v4.15h-28.93zM220.26 323.38h12.41v4.15h-12.41z"/>
<path fill="#ff2050" d="M22.02 273.82h12.41v4.15h-12.41zM22.02 277.95h12.41v4.15h-12.41zM17.89 282.08h20.67v4.15h-20.67zM17.89 286.21h20.67v4.15h-20.67zM17.89 290.34h24.8v4.15h-24.8zM17.89 294.47h28.93v4.15h-28.93zM17.89 298.6h24.8v4.15h-24.8zM17.89 302.73h20.67v4.15h-20.67zM17.89 306.86h16.54v4.15h-16.54zM17.89 310.99h4.15v4.15h-4.15z"/>
<path fill="#ff2a10" d="M319.38 277.95h8.28v4.15h-8.28zM319.38 282.08h37.19v4.15h-37.19zM319.38 286.21h45.45v4.15h-45.45zM315.25 290.34h53.71v4.15h-53.71zM315.25 294.47h53.71v4.15h-53.71zM315.25 298.6h57.84v4.15h-57.84zM315.25 302.73h57.84v4.15h-57.84zM319.38 306.86h24.8v4.15h-24.8z"/>
<path fill="#ff4a10" d="M79.84 282.08h4.15v4.15h-4.15zM71.58 286.21h16.54v4.15h-16.54zM63.32 290.34h33.06v4.15h-33.06zM63.32 294.47h37.19v4.15h-37.19zM63.32 298.6h45.45v4.15h-45.45zM63.32 302.73h49.58v4.15h-49.58zM63.32 306.86h49.58v4.15h-49.58zM63.32 310.99h53.71v4.15h-53.71zM67.45 315.12h45.45v4.15h-45.45zM67.45 319.25h45.45v4.15h-45.45zM71.58 323.38h41.32v4.15h-41.32zM75.71 327.51h37.19v4.15h-37.19zM75.71 331.64h33.06v4.15h-33.06zM79.84 335.77h28.93v4.15h-28.93zM83.97 339.9h24.8v4.15h-24.8zM88.1 344.03h12.41v4.15h-12.41zM88.1 348.16h8.28v4.15h-8.28z"/>
<path fill="#ff3030" d="M154.18 286.21h16.54v4.15h-16.54zM154.18 290.34h16.54v4.15h-16.54zM154.18 294.47h16.54v4.15h-16.54zM154.18 298.6h20.67v4.15h-20.67zM154.18 302.73h16.54v4.15h-16.54z"/>
<path fill="#ff8210" d="M46.8 294.47h16.54v4.15h-16.54zM42.67 298.6h20.67v4.15h-20.67zM38.54 302.73h24.8v4.15h-24.8zM34.41 306.86h28.93v4.15h-28.93zM22.02 310.99h41.32v4.15h-41.32zM17.89 315.12h49.58v4.15h-49.58zM17.89 319.25h49.58v4.15h-49.58zM17.89 323.38h53.71v4.15h-53.71zM22.02 327.51h53.71v4.15h-53.71zM22.02 331.64h53.71v4.15h-53.71zM22.02 335.77h57.84v4.15h-57.84zM22.02 339.9h61.97v4.15h-61.97zM22.02 344.03h66.1v4.15h-66.1zM22.02 348.16h66.1v4.15h-66.1zM22.02 352.29h70.23v4.15h-70.23zM30.28 356.42h61.97v4.15h-61.97zM38.54 360.55h53.71v4.15h-53.71zM38.54 364.68h53.71v4.15h-53.71zM38.54 368.81h49.58v4.15h-49.58zM42.67 372.94h45.45v4.15h-45.45zM42.67 377.07h41.32v4.15h-41.32zM46.8 381.2h37.19v4.15h-37.19z"/>
<path fill="#ff2060" d="M389.59 302.73h28.93v4.15h-28.93zM373.07 306.86h45.45v4.15h-45.45zM377.2 310.99h41.32v4.15h-41.32zM377.2 315.12h41.32v4.15h-41.32zM381.33 319.25h37.19v4.15h-37.19zM385.46 323.38h33.06v4.15h-33.06zM406.11 327.51h12.41v4.15h-12.41z"/>
<path fill="#ff1a90" d="M344.16 306.86h4.15v4.15h-4.15zM319.38 310.99h28.93v4.15h-28.93zM315.25 315.12h37.19v4.15h-37.19zM315.25 319.25h41.32v4.15h-41.32zM311.12 323.38h49.58v4.15h-49.58zM306.99 327.51h57.84v4.15h-57.84zM306.99 331.64h57.84v4.15h-57.84zM306.99 335.77h57.84v4.15h-57.84zM311.12 339.9h53.71v4.15h-53.71zM340.03 344.03h20.67v4.15h-20.67zM348.29 348.16h8.28v4.15h-8.28z"/>
<path fill="#ff4a70" d="M348.29 306.86h24.8v4.15h-24.8zM348.29 310.99h28.93v4.15h-28.93zM352.42 315.12h24.8v4.15h-24.8zM356.55 319.25h24.8v4.15h-24.8zM360.68 323.38h20.67v4.15h-20.67zM364.81 327.51h16.54v4.15h-16.54zM364.81 331.64h8.28v4.15h-8.28zM364.81 335.77h4.15v4.15h-4.15z"/>
<path fill="#ff2a0c" d="M257.43 315.12h16.54v4.15h-16.54zM245.04 319.25h41.32v4.15h-41.32zM216.13 323.38h4.15v4.15h-4.15zM232.65 323.38h66.1v4.15h-66.1zM212 327.51h95.01v4.15h-95.01zM212 331.64h95.01v4.15h-95.01zM212 335.77h95.01v4.15h-95.01zM212 339.9h99.14v4.15h-99.14zM207.87 344.03h99.14v4.15h-99.14zM207.87 348.16h95.01v4.15h-95.01zM203.74 352.29h95.01v4.15h-95.01zM207.87 356.42h86.75v4.15h-86.75zM207.87 360.55h82.62v4.15h-82.62zM212 364.68h74.36v4.15h-74.36zM216.13 368.81h66.1v4.15h-66.1zM220.26 372.94h61.97v4.15h-61.97zM224.39 377.07h57.84v4.15h-57.84zM224.39 381.2h8.28v4.15h-8.28zM249.17 381.2h24.8v4.15h-24.8zM253.3 385.33h16.54v4.15h-16.54z"/>
<path fill="#ff0a50" d="M381.33 323.38h4.15v4.15h-4.15zM381.33 327.51h24.8v4.15h-24.8zM373.07 331.64h45.45v4.15h-45.45zM368.94 335.77h49.58v4.15h-49.58zM364.81 339.9h53.71v4.15h-53.71zM364.81 344.03h53.71v4.15h-53.71zM368.94 348.16h49.58v4.15h-49.58zM373.07 352.29h45.45v4.15h-45.45zM377.2 356.42h41.32v4.15h-41.32zM377.2 360.55h41.32v4.15h-41.32zM377.2 364.68h41.32v4.15h-41.32zM381.33 368.81h37.19v4.15h-37.19zM381.33 372.94h37.19v4.15h-37.19zM385.46 377.07h33.06v4.15h-33.06zM385.46 381.2h33.06v4.15h-33.06zM401.98 385.33h16.54v4.15h-16.54z"/>
<path fill="#ff3050" d="M100.49 344.03h12.41v4.15h-12.41zM96.36 348.16h24.8v4.15h-24.8zM92.23 352.29h37.19v4.15h-37.19zM92.23 356.42h37.19v4.15h-37.19zM92.23 360.55h33.06v4.15h-33.06zM92.23 364.68h33.06v4.15h-33.06zM88.1 368.81h37.19v4.15h-37.19zM88.1 372.94h37.19v4.15h-37.19zM83.97 377.07h41.32v4.15h-41.32zM83.97 381.2h33.06v4.15h-33.06z"/>
<path fill="#ff2a60" d="M150.05 344.03h12.41v4.15h-12.41zM133.53 348.16h37.19v4.15h-37.19zM129.4 352.29h74.36v4.15h-74.36zM129.4 356.42h78.49v4.15h-78.49zM125.27 360.55h82.62v4.15h-82.62zM125.27 364.68h86.75v4.15h-86.75zM125.27 368.81h86.75v4.15h-86.75zM125.27 372.94h86.75v4.15h-86.75zM125.27 377.07h86.75v4.15h-86.75zM121.14 381.2h90.88v4.15h-90.88zM125.27 385.33h86.75v4.15h-86.75zM125.27 389.46h86.75v4.15h-86.75zM125.27 393.59h82.62v4.15h-82.62zM125.27 397.72h70.23v4.15h-70.23zM125.27 401.85h57.84v4.15h-57.84zM125.27 405.98h53.71v4.15h-53.71zM129.4 410.11h45.45v4.15h-45.45zM137.66 414.24h33.06v4.15h-33.06zM141.79 418.37h28.93v4.15h-28.93z"/>
<path fill="#ff3a60" d="M17.89 356.42h12.41v4.15h-12.41zM17.89 360.55h20.67v4.15h-20.67zM13.76 364.68h24.8v4.15h-24.8zM13.76 368.81h24.8v4.15h-24.8zM13.76 372.94h28.93v4.15h-28.93zM13.76 377.07h28.93v4.15h-28.93zM13.76 381.2h28.93v4.15h-28.93zM17.89 385.33h8.28v4.15h-8.28z"/>
<path fill="#ff5090" d="M42.67 381.2h4.15v4.15h-4.15zM26.15 385.33h41.32v4.15h-41.32zM17.89 389.46h49.58v4.15h-49.58zM13.76 393.59h53.71v4.15h-53.71zM13.76 397.72h53.71v4.15h-53.71zM13.76 401.85h53.71v4.15h-53.71zM13.76 405.98h57.84v4.15h-57.84zM13.76 410.11h57.84v4.15h-57.84zM17.89 414.24h49.58v4.15h-49.58zM17.89 418.37h49.58v4.15h-49.58z"/>
<path fill="#ff1a70" d="M117.01 381.2h4.15v4.15h-4.15zM232.65 381.2h16.54v4.15h-16.54zM83.97 385.33h41.32v4.15h-41.32zM224.39 385.33h28.93v4.15h-28.93zM88.1 389.46h37.19v4.15h-37.19zM220.26 389.46h33.06v4.15h-33.06zM88.1 393.59h37.19v4.15h-37.19zM220.26 393.59h28.93v4.15h-28.93zM88.1 397.72h37.19v4.15h-37.19zM224.39 397.72h20.67v4.15h-20.67zM88.1 401.85h37.19v4.15h-37.19zM232.65 401.85h8.28v4.15h-8.28zM88.1 405.98h37.19v4.15h-37.19zM88.1 410.11h28.93v4.15h-28.93zM92.23 414.24h12.41v4.15h-12.41zM92.23 418.37h8.28v4.15h-8.28z"/>
<path fill="#ff4a20" d="M5.5 385.33h12.41v4.15h-12.41zM377.2 385.33h24.8v4.15h-24.8zM5.5 389.46h12.41v4.15h-12.41zM373.07 389.46h33.06v4.15h-33.06zM5.5 393.59h8.28v4.15h-8.28zM373.07 393.59h33.06v4.15h-33.06zM5.5 397.72h8.28v4.15h-8.28zM364.81 397.72h41.32v4.15h-41.32zM360.68 401.85h49.58v4.15h-49.58zM360.68 405.98h49.58v4.15h-49.58zM352.42 410.11h57.84v4.15h-57.84zM340.03 414.24h74.36v4.15h-74.36zM340.03 418.37h74.36v4.15h-74.36z"/>
<path fill="#ff5a30" d="M67.45 385.33h16.54v4.15h-16.54zM67.45 389.46h20.67v4.15h-20.67zM67.45 393.59h20.67v4.15h-20.67zM67.45 397.72h20.67v4.15h-20.67zM67.45 401.85h20.67v4.15h-20.67zM71.58 405.98h16.54v4.15h-16.54z"/>
<path fill="#ff1a50" d="M253.3 389.46h4.15v4.15h-4.15zM249.17 393.59h8.28v4.15h-8.28zM212 397.72h12.41v4.15h-12.41zM245.04 397.72h12.41v4.15h-12.41zM212 401.85h20.67v4.15h-20.67zM240.91 401.85h16.54v4.15h-16.54zM212 405.98h45.45v4.15h-45.45zM212 410.11h45.45v4.15h-45.45zM212 414.24h45.45v4.15h-45.45zM212 418.37h45.45v4.15h-45.45z"/>
<path fill="#ff7a40" d="M406.11 389.46h12.41v4.15h-12.41zM406.11 393.59h12.41v4.15h-12.41zM406.11 397.72h12.41v4.15h-12.41zM410.24 401.85h8.28v4.15h-8.28zM410.24 405.98h8.28v4.15h-8.28zM410.24 410.11h8.28v4.15h-8.28zM414.37 414.24h4.15v4.15h-4.15zM414.37 418.37h4.15v4.15h-4.15z"/>
<path fill="#ff1a78" d="M207.87 393.59h4.15v4.15h-4.15zM195.48 397.72h16.54v4.15h-16.54zM183.09 401.85h28.93v4.15h-28.93zM178.96 405.98h33.06v4.15h-33.06zM174.83 410.11h37.19v4.15h-37.19zM170.7 414.24h41.32v4.15h-41.32zM170.7 418.37h41.32v4.15h-41.32z"/>
<path fill="#ffc810" d="M5.5 401.85h8.28v4.15h-8.28zM5.5 405.98h8.28v4.15h-8.28zM5.5 410.11h8.28v4.15h-8.28z"/>
<path fill="#ff2aa0" d="M117.01 410.11h12.41v4.15h-12.41zM121.14 414.24h16.54v4.15h-16.54zM121.14 418.37h20.67v4.15h-20.67z"/>
<path fill="#ffd860" d="M5.5 414.24h12.41v4.15h-12.41zM5.5 418.37h12.41v4.15h-12.41z"/>
<path fill="#ff1a20" d="M104.62 414.24h16.54v4.15h-16.54zM100.49 418.37h20.67v4.15h-20.67z"/>
</g>
<path fill="none" stroke="#000" stroke-width="2" stroke-linecap="square" d="M9.63 67.32V71.45M9.63 154.05V158.18M9.63 232.52V240.78M13.76 63.19V67.32M13.76 158.18V162.31M13.76 228.39V232.52M13.76 306.86V310.99M13.76 364.68V385.33M13.76 393.59V414.24M17.89 59.06V63.19M17.89 162.31V166.44M17.89 170.57V182.96M17.89 195.35V228.39M17.89 282.08V327.51M17.89 356.42V364.68M17.89 385.33V393.59M17.89 414.24V422.5M22.02 166.44V170.57M22.02 182.96V195.35M22.02 269.69V282.08M22.02 310.99V315.12M22.02 327.51V356.42M26.15 26.02V59.06M26.15 162.31V166.44M26.15 228.39V232.52M26.15 385.33V389.46M30.28 158.18V162.31M30.28 232.52V236.65M30.28 356.42V360.55M34.41 59.06V63.19M34.41 104.49V129.27M34.41 236.65V240.78M34.41 261.43V282.08M34.41 306.86V310.99M38.54 9.5V30.15M38.54 63.19V67.32M38.54 100.36V104.49M38.54 129.27V133.4M38.54 154.05V158.18M38.54 240.78V261.43M38.54 282.08V290.34M38.54 302.73V306.86M38.54 360.55V372.94M42.67 30.15V34.28M42.67 67.32V71.45M42.67 96.23V100.36M42.67 290.34V294.47M42.67 298.6V302.73M42.67 372.94V385.33M46.8 34.28V38.41M46.8 71.45V79.71M46.8 129.27V158.18M46.8 236.65V240.78M46.8 294.47V298.6M46.8 381.2V385.33M50.93 38.41V42.54M50.93 79.71V83.84M50.93 92.1V96.23M50.93 158.18V162.31M55.06 42.54V46.67M55.06 75.58V96.23M55.06 125.14V129.27M55.06 162.31V166.44M55.06 220.13V236.65M59.19 46.67V50.8M59.19 54.93V75.58M59.19 96.23V125.14M59.19 166.44V174.7M59.19 211.87V220.13M63.32 50.8V54.93M63.32 121.01V125.14M63.32 174.7V178.83M63.32 199.48V211.87M63.32 290.34V315.12M67.45 26.02V46.67M67.45 178.83V187.09M67.45 315.12V323.38M67.45 385.33V405.98M67.45 414.24V422.5M71.58 9.5V26.02M71.58 46.67V50.8M71.58 121.01V125.14M71.58 187.09V199.48M71.58 236.65V240.78M71.58 286.21V290.34M71.58 323.38V327.51M71.58 405.98V414.24M75.71 182.96V187.09M75.71 195.35V199.48M75.71 327.51V335.77M79.84 50.8V54.93M79.84 116.88V121.01M79.84 199.48V203.61M79.84 282.08V286.21M79.84 335.77V339.9M83.97 87.97V116.88M83.97 240.78V286.21M83.97 339.9V344.03M83.97 377.07V389.46M88.1 54.93V59.06M88.1 236.65V240.78M88.1 286.21V290.34M88.1 344.03V352.29M88.1 368.81V377.07M88.1 389.46V414.24M92.23 83.84V87.97M92.23 352.29V368.81M92.23 414.24V422.5M96.36 59.06V83.84M96.36 203.61V207.74M96.36 290.34V294.47M96.36 348.16V352.29M100.49 54.93V59.06M100.49 203.61V207.74M100.49 232.52V236.65M100.49 294.47V298.6M100.49 344.03V348.16M100.49 418.37V422.5M104.62 199.48V203.61M104.62 207.74V211.87M104.62 414.24V418.37M108.75 50.8V54.93M108.75 83.84V87.97M108.75 199.48V207.74M108.75 211.87V232.52M108.75 298.6V302.73M108.75 331.64V344.03M112.88 9.5V17.76M112.88 30.15V54.93M112.88 195.35V199.48M112.88 302.73V310.99M112.88 315.12V331.64M112.88 344.03V348.16M117.01 13.63V30.15M117.01 54.93V59.06M117.01 178.83V195.35M117.01 228.39V232.52M117.01 310.99V315.12M117.01 381.2V385.33M117.01 410.11V414.24M121.14 13.63V17.76M121.14 59.06V63.19M121.14 174.7V178.83M121.14 348.16V352.29M121.14 381.2V385.33M121.14 414.24V422.5M125.27 9.5V13.63M125.27 63.19V67.32M125.27 360.55V381.2M125.27 385.33V410.11M129.4 67.32V71.45M129.4 79.71V87.97M129.4 125.14V137.53M129.4 170.57V174.7M129.4 352.29V360.55M129.4 410.11V414.24M133.53 71.45V79.71M133.53 87.97V92.1M133.53 137.53V174.7M133.53 232.52V240.78M133.53 348.16V352.29M137.66 92.1V96.23M137.66 116.88V133.4M137.66 149.92V154.05M137.66 174.7V178.83M137.66 228.39V232.52M137.66 414.24V418.37M141.79 96.23V116.88M141.79 133.4V145.79M141.79 178.83V182.96M141.79 195.35V199.48M141.79 224.26V228.39M141.79 240.78V244.91M141.79 418.37V422.5M145.92 92.1V100.36M145.92 145.79V149.92M145.92 182.96V195.35M145.92 199.48V224.26M145.92 244.91V249.04M150.05 83.84V92.1M150.05 249.04V253.17M150.05 257.3V269.69M150.05 302.73V306.86M150.05 344.03V348.16M154.18 9.5V17.76M154.18 63.19V83.84M154.18 92.1V96.23M154.18 149.92V154.05M154.18 253.17V257.3M154.18 269.69V277.95M154.18 286.21V306.86M158.31 17.76V21.89M158.31 46.67V63.19M158.31 170.57V187.09M158.31 277.95V286.21M162.44 21.89V46.67M162.44 63.19V67.32M162.44 154.05V170.57M162.44 187.09V191.22M162.44 211.87V216M162.44 253.17V257.3M162.44 344.03V348.16M166.57 59.06V63.19M166.57 191.22V195.35M166.57 207.74V211.87M166.57 257.3V261.43M170.7 50.8V92.1M170.7 195.35V207.74M170.7 261.43V265.56M170.7 282.08V298.6M170.7 302.73V306.86M170.7 348.16V352.29M174.83 21.89V30.15M174.83 46.67V50.8M174.83 154.05V174.7M174.83 187.09V195.35M174.83 265.56V282.08M174.83 298.6V302.73M178.96 17.76V21.89M178.96 30.15V46.67M178.96 149.92V154.05M178.96 174.7V178.83M183.09 13.63V17.76M183.09 92.1V149.92M183.09 178.83V187.09M183.09 269.69V273.82M187.22 9.5V13.63M187.22 30.15V34.28M191.35 13.63V17.76M191.35 92.1V96.23M191.35 182.96V187.09M195.48 13.63V17.76M195.48 265.56V269.69M199.61 9.5V38.41M199.61 145.79V149.92M199.61 261.43V269.69M203.74 38.41V42.54M203.74 182.96V187.09M203.74 269.69V282.08M203.74 290.34V302.73M203.74 306.86V310.99M203.74 352.29V356.42M207.87 145.79V149.92M207.87 178.83V182.96M207.87 282.08V290.34M207.87 302.73V306.86M207.87 310.99V315.12M207.87 344.03V352.29M207.87 356.42V364.68M212 17.76V21.89M212 42.54V46.67M212 145.79V149.92M212 282.08V286.21M212 315.12V319.25M212 327.51V344.03M212 364.68V393.59M216.13 46.67V50.8M216.13 141.66V149.92M216.13 174.7V178.83M216.13 261.43V265.56M216.13 277.95V282.08M216.13 319.25V327.51M216.13 368.81V372.94M220.26 9.5V17.76M220.26 50.8V54.93M220.26 92.1V108.62M220.26 137.53V141.66M220.26 149.92V162.31M220.26 170.57V174.7M220.26 273.82V277.95M220.26 323.38V327.51M220.26 372.94V377.07M220.26 389.46V397.72M224.39 17.76V21.89M224.39 108.62V116.88M224.39 162.31V170.57M224.39 265.56V273.82M224.39 377.07V389.46M224.39 397.72V401.85M228.52 54.93V59.06M228.52 87.97V92.1M228.52 116.88V137.53M228.52 257.3V265.56M232.65 54.93V59.06M232.65 83.84V87.97M232.65 244.91V257.3M232.65 323.38V327.51M232.65 381.2V385.33M232.65 401.85V405.98M236.78 21.89V26.02M236.78 50.8V54.93M236.78 240.78V244.91M240.91 79.71V83.84M240.91 236.65V240.78M240.91 401.85V405.98M245.04 26.02V30.15M245.04 46.67V50.8M245.04 232.52V236.65M245.04 265.56V269.69M245.04 319.25V323.38M245.04 397.72V401.85M249.17 42.54V46.67M249.17 133.4V137.53M249.17 228.39V232.52M249.17 381.2V385.33M249.17 393.59V397.72M253.3 26.02V42.54M253.3 137.53V141.66M253.3 158.18V170.57M253.3 385.33V393.59M257.43 17.76V26.02M257.43 42.54V46.67M257.43 137.53V158.18M257.43 224.26V228.39M257.43 265.56V269.69M257.43 315.12V319.25M257.43 389.46V422.5M261.56 9.5V17.76M261.56 170.57V174.7M265.69 46.67V59.06M265.69 137.53V141.66M269.82 59.06V71.45M269.82 75.58V79.71M269.82 166.44V174.7M269.82 207.74V224.26M269.82 385.33V389.46M273.95 9.5V42.54M273.95 46.67V50.8M273.95 71.45V75.58M273.95 79.71V92.1M273.95 158.18V166.44M273.95 174.7V187.09M273.95 199.48V207.74M273.95 224.26V228.39M273.95 249.04V273.82M273.95 286.21V319.25M273.95 381.2V385.33M273.95 397.72V414.24M278.08 42.54V46.67M278.08 92.1V96.23M278.08 133.4V137.53M278.08 149.92V158.18M278.08 187.09V199.48M278.08 228.39V236.65M278.08 273.82V282.08M278.08 389.46V397.72M278.08 414.24V418.37M282.21 129.27V133.4M282.21 137.53V149.92M282.21 187.09V191.22M282.21 236.65V249.04M282.21 282.08V286.21M282.21 368.81V389.46M282.21 418.37V422.5M286.34 125.14V129.27M286.34 244.91V249.04M286.34 319.25V323.38M286.34 364.68V368.81M290.47 121.01V125.14M290.47 273.82V282.08M290.47 360.55V364.68M294.6 116.88V121.01M294.6 269.69V273.82M294.6 282.08V286.21M294.6 356.42V360.55M298.73 112.75V116.88M298.73 265.56V269.69M298.73 323.38V327.51M298.73 352.29V356.42M302.86 108.62V112.75M302.86 187.09V191.22M302.86 249.04V265.56M302.86 286.21V290.34M302.86 348.16V352.29M306.99 9.5V108.62M306.99 265.56V269.69M306.99 327.51V339.9M306.99 344.03V348.16M311.12 174.7V187.09M311.12 269.69V273.82M311.12 290.34V294.47M311.12 323.38V327.51M311.12 339.9V344.03M315.25 108.62V137.53M315.25 149.92V174.7M315.25 187.09V191.22M315.25 240.78V253.17M315.25 273.82V277.95M315.25 290.34V306.86M315.25 315.12V323.38M319.38 137.53V149.92M319.38 191.22V195.35M319.38 228.39V240.78M319.38 253.17V265.56M319.38 277.95V290.34M319.38 306.86V315.12M323.51 195.35V199.48M323.51 220.13V228.39M323.51 265.56V277.95M327.64 216V220.13M327.64 277.95V282.08M331.77 199.48V216M335.9 207.74V211.87M340.03 344.03V348.16M340.03 414.24V422.5M344.16 306.86V310.99M348.29 207.74V211.87M348.29 348.16V352.29M352.42 352.29V364.68M352.42 410.11V414.24M356.55 182.96V199.48M356.55 282.08V286.21M356.55 348.16V352.29M356.55 364.68V397.72M360.68 108.62V145.79M360.68 170.57V182.96M360.68 199.48V228.39M360.68 344.03V348.16M360.68 397.72V410.11M364.81 145.79V170.57M364.81 228.39V236.65M364.81 273.82V290.34M364.81 339.9V348.16M364.81 397.72V401.85M368.94 158.18V162.31M368.94 236.65V240.78M368.94 265.56V273.82M368.94 290.34V298.6M368.94 335.77V339.9M368.94 348.16V352.29M373.07 240.78V265.56M373.07 298.6V310.99M373.07 331.64V335.77M373.07 352.29V356.42M373.07 389.46V397.72M377.2 236.65V240.78M377.2 310.99V319.25M377.2 356.42V368.81M377.2 385.33V389.46M381.33 162.31V166.44M381.33 319.25V331.64M381.33 368.81V377.07M385.46 166.44V170.57M385.46 323.38V327.51M385.46 377.07V385.33M389.59 199.48V203.61M393.72 182.96V199.48M397.85 162.31V182.96M397.85 232.52V236.65M401.98 158.18V162.31M401.98 385.33V389.46M406.11 149.92V158.18M406.11 182.96V187.09M406.11 195.35V232.52M406.11 327.51V331.64M406.11 389.46V401.85M410.24 141.66V149.92M410.24 187.09V195.35M410.24 401.85V414.24M414.37 108.62V141.66M414.37 414.24V422.5M112.88 13.63H117.01M121.14 13.63H125.27M183.09 13.63H191.35M195.48 13.63H199.61M112.88 17.76H121.14M154.18 17.76H158.31M178.96 17.76H183.09M191.35 17.76H195.48M212 17.76H224.39M257.43 17.76H261.56M158.31 21.89H162.44M174.83 21.89H178.96M199.61 21.89H212M224.39 21.89H236.78M5.5 26.02H38.54M67.45 26.02H71.58M162.44 26.02H174.83M236.78 26.02H245.04M253.3 26.02H257.43M38.54 30.15H42.67M112.88 30.15H117.01M174.83 30.15H178.96M187.22 30.15H199.61M245.04 30.15H253.3M42.67 34.28H67.45M178.96 34.28H187.22M46.8 38.41H50.93M199.61 38.41H203.74M50.93 42.54H55.06M203.74 42.54H212M249.17 42.54H257.43M273.95 42.54H278.08M55.06 46.67H71.58M158.31 46.67H162.44M174.83 46.67H178.96M212 46.67H216.13M245.04 46.67H249.17M257.43 46.67H265.69M273.95 46.67H278.08M59.19 50.8H63.32M71.58 50.8H79.84M108.75 50.8H112.88M170.7 50.8H174.83M216.13 50.8H220.26M236.78 50.8H245.04M265.69 50.8H273.95M59.19 54.93H63.32M79.84 54.93H88.1M100.49 54.93H108.75M112.88 54.93H117.01M220.26 54.93H228.52M232.65 54.93H236.78M17.89 59.06H34.41M88.1 59.06H100.49M117.01 59.06H121.14M166.57 59.06H170.7M228.52 59.06H232.65M265.69 59.06H269.82M13.76 63.19H17.89M34.41 63.19H38.54M121.14 63.19H125.27M154.18 63.19H158.31M162.44 63.19H166.57M9.63 67.32H13.76M38.54 67.32H42.67M125.27 67.32H162.44M5.5 71.45H9.63M42.67 71.45H46.8M129.4 71.45H133.53M269.82 71.45H273.95M55.06 75.58H59.19M269.82 75.58H306.99M46.8 79.71H50.93M129.4 79.71H133.53M154.18 79.71H170.7M240.91 79.71H273.95M50.93 83.84H55.06M92.23 83.84H108.75M150.05 83.84H154.18M232.65 83.84H240.91M83.97 87.97H92.23M108.75 87.97H133.53M228.52 87.97H232.65M50.93 92.1H55.06M133.53 92.1H137.66M145.92 92.1H150.05M154.18 92.1H191.35M220.26 92.1H228.52M273.95 92.1H278.08M42.67 96.23H50.93M55.06 96.23H83.97M137.66 96.23H154.18M191.35 96.23H220.26M278.08 96.23H306.99M38.54 100.36H42.67M141.79 100.36H145.92M34.41 104.49H38.54M220.26 108.62H224.39M302.86 108.62H418.5M298.73 112.75H302.86M79.84 116.88H83.97M137.66 116.88H141.79M224.39 116.88H228.52M294.6 116.88H298.73M59.19 121.01H63.32M71.58 121.01H79.84M290.47 121.01H294.6M55.06 125.14H59.19M63.32 125.14H71.58M129.4 125.14H137.66M286.34 125.14H290.47M34.41 129.27H38.54M46.8 129.27H55.06M282.21 129.27H286.34M38.54 133.4H46.8M137.66 133.4H141.79M228.52 133.4H249.17M278.08 133.4H282.21M129.4 137.53H133.53M220.26 137.53H228.52M249.17 137.53H257.43M265.69 137.53H282.21M315.25 137.53H319.38M216.13 141.66H220.26M253.3 141.66H265.69M410.24 141.66H414.37M141.79 145.79H145.92M183.09 145.79H199.61M207.87 145.79H212M360.68 145.79H364.81M137.66 149.92H154.18M178.96 149.92H183.09M199.61 149.92H207.87M212 149.92H220.26M278.08 149.92H282.21M315.25 149.92H319.38M406.11 149.92H410.24M5.5 154.05H9.63M38.54 154.05H46.8M133.53 154.05H137.66M154.18 154.05H178.96M9.63 158.18H13.76M30.28 158.18H38.54M46.8 158.18H50.93M253.3 158.18H257.43M273.95 158.18H278.08M364.81 158.18H368.94M401.98 158.18H406.11M13.76 162.31H17.89M26.15 162.31H30.28M50.93 162.31H55.06M220.26 162.31H224.39M368.94 162.31H381.33M397.85 162.31H401.98M17.89 166.44H26.15M55.06 166.44H59.19M162.44 166.44H174.83M269.82 166.44H273.95M381.33 166.44H385.46M17.89 170.57H22.02M129.4 170.57H133.53M158.31 170.57H162.44M220.26 170.57H261.56M360.68 170.57H364.81M385.46 170.57H397.85M59.19 174.7H63.32M121.14 174.7H129.4M133.53 174.7H137.66M174.83 174.7H178.96M216.13 174.7H220.26M261.56 174.7H273.95M311.12 174.7H315.25M63.32 178.83H67.45M117.01 178.83H121.14M137.66 178.83H141.79M178.96 178.83H183.09M207.87 178.83H216.13M5.5 182.96H22.02M75.71 182.96H117.01M141.79 182.96H158.31M183.09 182.96H191.35M203.74 182.96H207.87M356.55 182.96H360.68M393.72 182.96H406.11M22.02 187.09H75.71M158.31 187.09H162.44M174.83 187.09H183.09M191.35 187.09H203.74M273.95 187.09H282.21M302.86 187.09H315.25M406.11 187.09H418.5M162.44 191.22H166.57M282.21 191.22H302.86M315.25 191.22H319.38M17.89 195.35H22.02M71.58 195.35H75.71M112.88 195.35H145.92M166.57 195.35H174.83M319.38 195.35H323.51M406.11 195.35H410.24M63.32 199.48H71.58M75.71 199.48H79.84M104.62 199.48H112.88M141.79 199.48H145.92M273.95 199.48H278.08M323.51 199.48H331.77M356.55 199.48H360.68M389.59 199.48H406.11M79.84 203.61H96.36M100.49 203.61H104.62M360.68 203.61H389.59M96.36 207.74H100.49M104.62 207.74H108.75M166.57 207.74H170.7M269.82 207.74H273.95M331.77 207.74H335.9M348.29 207.74H360.68M59.19 211.87H63.32M104.62 211.87H108.75M162.44 211.87H166.57M335.9 211.87H348.29M145.92 216H162.44M327.64 216H331.77M55.06 220.13H59.19M323.51 220.13H327.64M141.79 224.26H145.92M257.43 224.26H273.95M13.76 228.39H26.15M108.75 228.39H117.01M137.66 228.39H141.79M249.17 228.39H257.43M273.95 228.39H278.08M319.38 228.39H323.51M360.68 228.39H364.81M5.5 232.52H13.76M26.15 232.52H30.28M100.49 232.52H108.75M117.01 232.52H137.66M245.04 232.52H249.17M397.85 232.52H418.5M30.28 236.65H34.41M46.8 236.65H71.58M88.1 236.65H100.49M240.91 236.65H245.04M278.08 236.65H282.21M364.81 236.65H368.94M377.2 236.65H397.85M9.63 240.78H46.8M71.58 240.78H88.1M133.53 240.78H141.79M236.78 240.78H240.91M315.25 240.78H319.38M368.94 240.78H377.2M141.79 244.91H145.92M232.65 244.91H236.78M282.21 244.91H286.34M145.92 249.04H150.05M273.95 249.04H282.21M286.34 249.04H315.25M150.05 253.17H162.44M315.25 253.17H319.38M150.05 257.3H154.18M162.44 257.3H166.57M228.52 257.3H232.65M34.41 261.43H38.54M166.57 261.43H170.7M199.61 261.43H216.13M170.7 265.56H174.83M195.48 265.56H199.61M216.13 265.56H245.04M257.43 265.56H273.95M298.73 265.56H306.99M319.38 265.56H323.51M368.94 265.56H373.07M5.5 269.69H22.02M150.05 269.69H154.18M183.09 269.69H195.48M199.61 269.69H203.74M245.04 269.69H257.43M294.6 269.69H298.73M306.99 269.69H311.12M22.02 273.82H34.41M174.83 273.82H183.09M220.26 273.82H224.39M273.95 273.82H278.08M290.47 273.82H294.6M311.12 273.82H315.25M364.81 273.82H368.94M154.18 277.95H158.31M216.13 277.95H220.26M315.25 277.95H327.64M17.89 282.08H22.02M34.41 282.08H38.54M79.84 282.08H83.97M170.7 282.08H174.83M203.74 282.08H207.87M212 282.08H216.13M278.08 282.08H294.6M327.64 282.08H356.55M71.58 286.21H79.84M83.97 286.21H88.1M154.18 286.21H170.7M207.87 286.21H212M273.95 286.21H282.21M294.6 286.21H302.86M356.55 286.21H364.81M38.54 290.34H42.67M63.32 290.34H71.58M88.1 290.34H96.36M203.74 290.34H207.87M302.86 290.34H311.12M315.25 290.34H319.38M364.81 290.34H368.94M42.67 294.47H63.32M96.36 294.47H100.49M311.12 294.47H315.25M42.67 298.6H46.8M100.49 298.6H108.75M170.7 298.6H174.83M368.94 298.6H373.07M38.54 302.73H42.67M108.75 302.73H112.88M150.05 302.73H154.18M170.7 302.73H207.87M13.76 306.86H17.89M34.41 306.86H38.54M112.88 306.86H150.05M154.18 306.86H170.7M203.74 306.86H207.87M315.25 306.86H319.38M344.16 306.86H373.07M5.5 310.99H13.76M22.02 310.99H34.41M112.88 310.99H117.01M203.74 310.99H207.87M319.38 310.99H344.16M373.07 310.99H377.2M17.89 315.12H22.02M63.32 315.12H67.45M112.88 315.12H117.01M207.87 315.12H212M257.43 315.12H273.95M315.25 315.12H319.38M212 319.25H216.13M245.04 319.25H257.43M273.95 319.25H286.34M377.2 319.25H381.33M67.45 323.38H71.58M216.13 323.38H220.26M232.65 323.38H245.04M286.34 323.38H298.73M311.12 323.38H315.25M381.33 323.38H385.46M17.89 327.51H22.02M71.58 327.51H75.71M212 327.51H216.13M220.26 327.51H232.65M298.73 327.51H311.12M385.46 327.51H406.11M108.75 331.64H112.88M373.07 331.64H381.33M406.11 331.64H418.5M75.71 335.77H79.84M368.94 335.77H373.07M79.84 339.9H83.97M306.99 339.9H311.12M364.81 339.9H368.94M83.97 344.03H88.1M100.49 344.03H112.88M150.05 344.03H162.44M207.87 344.03H212M306.99 344.03H340.03M360.68 344.03H364.81M96.36 348.16H100.49M112.88 348.16H121.14M133.53 348.16H150.05M162.44 348.16H170.7M302.86 348.16H306.99M340.03 348.16H348.29M356.55 348.16H360.68M364.81 348.16H368.94M88.1 352.29H96.36M121.14 352.29H133.53M170.7 352.29H207.87M298.73 352.29H302.86M348.29 352.29H356.55M368.94 352.29H373.07M17.89 356.42H30.28M203.74 356.42H207.87M294.6 356.42H298.73M373.07 356.42H377.2M30.28 360.55H38.54M125.27 360.55H129.4M290.47 360.55H294.6M13.76 364.68H17.89M207.87 364.68H212M286.34 364.68H290.47M352.42 364.68H356.55M88.1 368.81H92.23M212 368.81H216.13M282.21 368.81H286.34M377.2 368.81H381.33M38.54 372.94H42.67M216.13 372.94H220.26M83.97 377.07H88.1M220.26 377.07H224.39M381.33 377.07H385.46M42.67 381.2H46.8M117.01 381.2H125.27M232.65 381.2H249.17M273.95 381.2H282.21M5.5 385.33H17.89M26.15 385.33H42.67M46.8 385.33H117.01M121.14 385.33H125.27M224.39 385.33H232.65M249.17 385.33H253.3M269.82 385.33H273.95M377.2 385.33H401.98M17.89 389.46H26.15M83.97 389.46H88.1M220.26 389.46H224.39M253.3 389.46H269.82M278.08 389.46H282.21M373.07 389.46H377.2M401.98 389.46H418.5M13.76 393.59H17.89M249.17 393.59H253.3M212 397.72H224.39M245.04 397.72H249.17M273.95 397.72H278.08M356.55 397.72H360.68M364.81 397.72H373.07M5.5 401.85H13.76M224.39 401.85H232.65M240.91 401.85H245.04M360.68 401.85H364.81M406.11 401.85H410.24M67.45 405.98H71.58M232.65 405.98H240.91M71.58 410.11H88.1M117.01 410.11H129.4M352.42 410.11H360.68M5.5 414.24H17.89M67.45 414.24H71.58M88.1 414.24H92.23M104.62 414.24H121.14M129.4 414.24H137.66M273.95 414.24H278.08M340.03 414.24H352.42M410.24 414.24H414.37M100.49 418.37H104.62M137.66 418.37H141.79M278.08 418.37H282.21"/>
<g clip-path="url(#mc)">
<g fill="none" stroke="#ffb4b4" stroke-width="1">
<polyline points="232.5,59.5 232.5,75 234.6,81.5"/>
<polyline points="364.2,338.5 363.5,330 359.75,322.5 353.5,320 349.75,315 349,309.5"/>
<polyline points="399,303.7 401,303.75 406,302.5 420,302.5"/>
<polyline points="84,112.5 87.5,118.75 100,120 102.5,128.75 110,132.5 122.5,132.5 125,130 130,130"/>
<polyline points="23.75,356.25 28,352 34,357 40,372.5"/>
<polyline points="172,422.5 172,414 176.4,410.4 180,406.6 185.2,402.8 197.8,399.6 201.6,398.4 210.4,395.2 213,393.3 213.5,399 213.5,422.5"/>
<polyline points="280,250 282,257 290,258 292,262 300,263"/>
<polyline points="162.9,216 165.2,220.5 168.3,222.8 171.3,225.9 171.3,235.8 168.3,237.3 167.5,245.7 165.2,248.7 162.9,250.2"/>
<polyline points="153,311 154.8,312 158.4,318.4 158.4,334.8 163,342"/>
<polyline points="184,311 184,307.4 188.6,303.7"/>
</g>
</g>
<rect x="195.5" y="46" width="4" height="4.5" fill="#101070"/>
<rect x="402.5" y="229" width="3.5" height="3.5" fill="#c8e020"/>
<rect x="5.5" y="422.5" width="413" height="0.8" fill="#999"/>
<rect x="0" y="0" width="63.75" height="55" fill="#fff"/>
<rect x="0" y="0" width="657" height="9.5" fill="#fff"/>
<rect x="0" y="0" width="5.5" height="428" fill="#fff"/>
<rect x="280.9" y="0" width="140" height="135.4" fill="#fff"/>
<rect x="280.9" y="135.4" width="137.6" height="1.5" fill="#000"/>
<text x="19" y="40.9" font-size="27" fill="#111">(a)</text>
<text x="281.3" y="19.1" font-size="14.7" fill="#111">Max</text>
<rect x="284.6" y="25.2" width="22.4" height="94.4" fill="url(#cb)"/>
<text x="283.3" y="133.9" font-size="14.5" fill="#111">Min</text>
<g><polygon fill="#ff010a" stroke="#ff010a" stroke-width="0.6" points="334.4,68.7 336.91,68.7 336.91,68.61 334.4,68.7"/><polygon fill="#ff0209" stroke="#ff0209" stroke-width="0.6" points="334.4,68.7 336.91,68.61 336.9,68.52 334.4,68.7"/><polygon fill="#ff0209" stroke="#ff0209" stroke-width="0.6" points="334.4,68.7 336.9,68.52 336.9,68.44 334.4,68.7"/><polygon fill="#ff0308" stroke="#ff0308" stroke-width="0.6" points="334.4,68.7 336.9,68.44 336.89,68.35 334.4,68.7"/><polygon fill="#ff0408" stroke="#ff0408" stroke-width="0.6" points="334.4,68.7 336.89,68.35 336.87,68.26 334.4,68.7"/><polygon fill="#ff0507" stroke="#ff0507" stroke-width="0.6" points="334.4,68.7 336.87,68.26 336.86,68.18 334.4,68.7"/><polygon fill="#ff0507" stroke="#ff0507" stroke-width="0.6" points="334.4,68.7 336.86,68.18 336.84,68.09 334.4,68.7"/><polygon fill="#ff0606" stroke="#ff0606" stroke-width="0.6" points="334.4,68.7 336.84,68.09 336.81,68.01 334.4,68.7"/><polygon fill="#ff0705" stroke="#ff0705" stroke-width="0.6" points="334.4,68.7 336.81,68.01 336.79,67.92 334.4,68.7"/><polygon fill="#ff0705" stroke="#ff0705" stroke-width="0.6" points="334.4,68.7 336.79,67.92 336.76,67.84 334.4,68.7"/><polygon fill="#ff0804" stroke="#ff0804" stroke-width="0.6" points="334.4,68.7 336.76,67.84 336.73,67.76 334.4,68.7"/><polygon fill="#ff0803" stroke="#ff0803" stroke-width="0.6" points="334.4,68.7 336.73,67.76 336.69,67.68 334.4,68.7"/><polygon fill="#ff0902" stroke="#ff0902" stroke-width="0.6" points="334.4,68.7 336.69,67.68 336.66,67.6 334.4,68.7"/><polygon fill="#ff0902" stroke="#ff0902" stroke-width="0.6" points="334.4,68.7 336.66,67.6 336.62,67.52 334.4,68.7"/><polygon fill="#ff0a01" stroke="#ff0a01" stroke-width="0.6" points="334.4,68.7 336.62,67.52 336.57,67.44 334.4,68.7"/><polygon fill="#ff0219" stroke="#ff0219" stroke-width="0.6" points="336.91,68.7 339.42,68.7 339.42,68.52 336.91,68.61"/><polygon fill="#ff0418" stroke="#ff0418" stroke-width="0.6" points="336.91,68.61 339.42,68.52 339.41,68.35 336.9,68.52"/><polygon fill="#ff0616" stroke="#ff0616" stroke-width="0.6" points="336.9,68.52 339.41,68.35 339.39,68.18 336.9,68.44"/><polygon fill="#ff0815" stroke="#ff0815" stroke-width="0.6" points="336.9,68.44 339.39,68.18 339.37,68 336.89,68.35"/><polygon fill="#ff0a13" stroke="#ff0a13" stroke-width="0.6" points="336.89,68.35 339.37,68 339.35,67.83 336.87,68.26"/><polygon fill="#ff0b12" stroke="#ff0b12" stroke-width="0.6" points="336.87,68.26 339.35,67.83 339.31,67.66 336.86,68.18"/><polygon fill="#ff0d10" stroke="#ff0d10" stroke-width="0.6" points="336.86,68.18 339.31,67.66 339.27,67.49 336.84,68.09"/><polygon fill="#ff0f0f" stroke="#ff0f0f" stroke-width="0.6" points="336.84,68.09 339.27,67.49 339.23,67.32 336.81,68.01"/><polygon fill="#ff100d" stroke="#ff100d" stroke-width="0.6" points="336.81,68.01 339.23,67.32 339.18,67.15 336.79,67.92"/><polygon fill="#ff120b" stroke="#ff120b" stroke-width="0.6" points="336.79,67.92 339.18,67.15 339.12,66.98 336.76,67.84"/><polygon fill="#ff130a" stroke="#ff130a" stroke-width="0.6" points="336.76,67.84 339.12,66.98 339.06,66.82 336.73,67.76"/><polygon fill="#ff1508" stroke="#ff1508" stroke-width="0.6" points="336.73,67.76 339.06,66.82 338.99,66.66 336.69,67.68"/><polygon fill="#ff1606" stroke="#ff1606" stroke-width="0.6" points="336.69,67.68 338.99,66.66 338.91,66.5 336.66,67.6"/><polygon fill="#ff1804" stroke="#ff1804" stroke-width="0.6" points="336.66,67.6 338.91,66.5 338.83,66.34 336.62,67.52"/><polygon fill="#ff1902" stroke="#ff1902" stroke-width="0.6" points="336.62,67.52 338.83,66.34 338.75,66.19 336.57,67.44"/><polygon fill="#ff0327" stroke="#ff0327" stroke-width="0.6" points="339.42,68.7 341.93,68.7 341.93,68.44 339.42,68.52"/><polygon fill="#ff0625" stroke="#ff0625" stroke-width="0.6" points="339.42,68.52 341.93,68.44 341.91,68.17 339.41,68.35"/><polygon fill="#ff0922" stroke="#ff0922" stroke-width="0.6" points="339.41,68.35 341.91,68.17 341.89,67.91 339.39,68.18"/><polygon fill="#ff0c20" stroke="#ff0c20" stroke-width="0.6" points="339.39,68.18 341.89,67.91 341.86,67.65 339.37,68"/><polygon fill="#ff0f1e" stroke="#ff0f1e" stroke-width="0.6" points="339.37,68 341.86,67.65 341.82,67.39 339.35,67.83"/><polygon fill="#ff121c" stroke="#ff121c" stroke-width="0.6" points="339.35,67.83 341.82,67.39 341.77,67.13 339.31,67.66"/><polygon fill="#ff1419" stroke="#ff1419" stroke-width="0.6" points="339.31,67.66 341.77,67.13 341.71,66.88 339.27,67.49"/><polygon fill="#ff1717" stroke="#ff1717" stroke-width="0.6" points="339.27,67.49 341.71,66.88 341.64,66.62 339.23,67.32"/><polygon fill="#ff1914" stroke="#ff1914" stroke-width="0.6" points="339.23,67.32 341.64,66.62 341.56,66.37 339.18,67.15"/><polygon fill="#ff1c12" stroke="#ff1c12" stroke-width="0.6" points="339.18,67.15 341.56,66.37 341.48,66.12 339.12,66.98"/><polygon fill="#ff1e0f" stroke="#ff1e0f" stroke-width="0.6" points="339.12,66.98 341.48,66.12 341.38,65.88 339.06,66.82"/><polygon fill="#ff200c" stroke="#ff200c" stroke-width="0.6" points="339.06,66.82 341.38,65.88 341.28,65.64 338.99,66.66"/><polygon fill="#ff2209" stroke="#ff2209" stroke-width="0.6" points="338.99,66.66 341.28,65.64 341.17,65.4 338.91,66.5"/><polygon fill="#ff2506" stroke="#ff2506" stroke-width="0.6" points="338.91,66.5 341.17,65.4 341.05,65.16 338.83,66.34"/><polygon fill="#ff2703" stroke="#ff2703" stroke-width="0.6" points="338.83,66.34 341.05,65.16 340.92,64.93 338.75,66.19"/><polygon fill="#ff0434" stroke="#ff0434" stroke-width="0.6" points="341.93,68.7 344.44,68.7 344.44,68.35 341.93,68.44"/><polygon fill="#ff0931" stroke="#ff0931" stroke-width="0.6" points="341.93,68.44 344.44,68.35 344.42,68 341.91,68.17"/><polygon fill="#ff0d2e" stroke="#ff0d2e" stroke-width="0.6" points="341.91,68.17 344.42,68 344.39,67.65 341.89,67.91"/><polygon fill="#ff112b" stroke="#ff112b" stroke-width="0.6" points="341.89,67.91 344.39,67.65 344.35,67.3 341.86,67.65"/><polygon fill="#ff1528" stroke="#ff1528" stroke-width="0.6" points="341.86,67.65 344.35,67.3 344.29,66.96 341.82,67.39"/><polygon fill="#ff1825" stroke="#ff1825" stroke-width="0.6" points="341.82,67.39 344.29,66.96 344.22,66.61 341.77,67.13"/><polygon fill="#ff1c22" stroke="#ff1c22" stroke-width="0.6" points="341.77,67.13 344.22,66.61 344.14,66.27 341.71,66.88"/><polygon fill="#ff1f1f" stroke="#ff1f1f" stroke-width="0.6" points="341.71,66.88 344.14,66.27 344.05,65.93 341.64,66.62"/><polygon fill="#ff221c" stroke="#ff221c" stroke-width="0.6" points="341.64,66.62 344.05,65.93 343.95,65.6 341.56,66.37"/><polygon fill="#ff2518" stroke="#ff2518" stroke-width="0.6" points="341.56,66.37 343.95,65.6 343.84,65.27 341.48,66.12"/><polygon fill="#ff2815" stroke="#ff2815" stroke-width="0.6" points="341.48,66.12 343.84,65.27 343.71,64.94 341.38,65.88"/><polygon fill="#ff2b11" stroke="#ff2b11" stroke-width="0.6" points="341.38,65.88 343.71,64.94 343.57,64.62 341.28,65.64"/><polygon fill="#ff2e0d" stroke="#ff2e0d" stroke-width="0.6" points="341.28,65.64 343.57,64.62 343.43,64.3 341.17,65.4"/><polygon fill="#ff3109" stroke="#ff3109" stroke-width="0.6" points="341.17,65.4 343.43,64.3 343.27,63.99 341.05,65.16"/><polygon fill="#ff3404" stroke="#ff3404" stroke-width="0.6" points="341.05,65.16 343.27,63.99 343.1,63.68 340.92,64.93"/><polygon fill="#ff0442" stroke="#ff0442" stroke-width="0.6" points="344.44,68.7 346.95,68.7 346.95,68.26 344.44,68.35"/><polygon fill="#ff0b3e" stroke="#ff0b3e" stroke-width="0.6" points="344.44,68.35 346.95,68.26 346.92,67.82 344.42,68"/><polygon fill="#ff103b" stroke="#ff103b" stroke-width="0.6" points="344.42,68 346.92,67.82 346.88,67.39 344.39,67.65"/><polygon fill="#ff1537" stroke="#ff1537" stroke-width="0.6" points="344.39,67.65 346.88,67.39 346.83,66.95 344.35,67.3"/><polygon fill="#ff1a33" stroke="#ff1a33" stroke-width="0.6" points="344.35,67.3 346.83,66.95 346.76,66.52 344.29,66.96"/><polygon fill="#ff1e2f" stroke="#ff1e2f" stroke-width="0.6" points="344.29,66.96 346.76,66.52 346.68,66.09 344.22,66.61"/><polygon fill="#ff232b" stroke="#ff232b" stroke-width="0.6" points="344.22,66.61 346.68,66.09 346.58,65.66 344.14,66.27"/><polygon fill="#ff2727" stroke="#ff2727" stroke-width="0.6" points="344.14,66.27 346.58,65.66 346.47,65.24 344.05,65.93"/><polygon fill="#ff2b23" stroke="#ff2b23" stroke-width="0.6" points="344.05,65.93 346.47,65.24 346.34,64.82 343.95,65.6"/><polygon fill="#ff2f1e" stroke="#ff2f1e" stroke-width="0.6" points="343.95,65.6 346.34,64.82 346.2,64.41 343.84,65.27"/><polygon fill="#ff331a" stroke="#ff331a" stroke-width="0.6" points="343.84,65.27 346.2,64.41 346.04,64 343.71,64.94"/><polygon fill="#ff3715" stroke="#ff3715" stroke-width="0.6" points="343.71,64.94 346.04,64 345.87,63.59 343.57,64.62"/><polygon fill="#ff3b10" stroke="#ff3b10" stroke-width="0.6" points="343.57,64.62 345.87,63.59 345.68,63.2 343.43,64.3"/><polygon fill="#ff3e0b" stroke="#ff3e0b" stroke-width="0.6" points="343.43,64.3 345.68,63.2 345.48,62.81 343.27,63.99"/><polygon fill="#ff4204" stroke="#ff4204" stroke-width="0.6" points="343.27,63.99 345.48,62.81 345.27,62.42 343.1,63.68"/><polygon fill="#ff0550" stroke="#ff0550" stroke-width="0.6" points="346.95,68.7 349.46,68.7 349.46,68.17 346.95,68.26"/><polygon fill="#ff0d4c" stroke="#ff0d4c" stroke-width="0.6" points="346.95,68.26 349.46,68.17 349.43,67.65 346.92,67.82"/><polygon fill="#ff1447" stroke="#ff1447" stroke-width="0.6" points="346.92,67.82 349.43,67.65 349.38,67.13 346.88,67.39"/><polygon fill="#ff1a43" stroke="#ff1a43" stroke-width="0.6" points="346.88,67.39 349.38,67.13 349.32,66.6 346.83,66.95"/><polygon fill="#ff203e" stroke="#ff203e" stroke-width="0.6" points="346.83,66.95 349.32,66.6 349.24,66.08 346.76,66.52"/><polygon fill="#ff2539" stroke="#ff2539" stroke-width="0.6" points="346.76,66.52 349.24,66.08 349.14,65.57 346.68,66.09"/><polygon fill="#ff2a34" stroke="#ff2a34" stroke-width="0.6" points="346.68,66.09 349.14,65.57 349.02,65.06 346.58,65.66"/><polygon fill="#ff2f2f" stroke="#ff2f2f" stroke-width="0.6" points="346.58,65.66 349.02,65.06 348.88,64.55 346.47,65.24"/><polygon fill="#ff342a" stroke="#ff342a" stroke-width="0.6" points="346.47,65.24 348.88,64.55 348.73,64.04 346.34,64.82"/><polygon fill="#ff3925" stroke="#ff3925" stroke-width="0.6" points="346.34,64.82 348.73,64.04 348.56,63.55 346.2,64.41"/><polygon fill="#ff3e20" stroke="#ff3e20" stroke-width="0.6" points="346.2,64.41 348.56,63.55 348.37,63.06 346.04,64"/><polygon fill="#ff431a" stroke="#ff431a" stroke-width="0.6" points="346.04,64 348.37,63.06 348.16,62.57 345.87,63.59"/><polygon fill="#ff4714" stroke="#ff4714" stroke-width="0.6" points="345.87,63.59 348.16,62.57 347.94,62.1 345.68,63.2"/><polygon fill="#ff4c0d" stroke="#ff4c0d" stroke-width="0.6" points="345.68,63.2 347.94,62.1 347.7,61.63 345.48,62.81"/><polygon fill="#ff5005" stroke="#ff5005" stroke-width="0.6" points="345.48,62.81 347.7,61.63 347.45,61.17 345.27,62.42"/><polygon fill="#ff065f" stroke="#ff065f" stroke-width="0.6" points="349.46,68.7 351.97,68.7 351.96,68.09 349.46,68.17"/><polygon fill="#ff105a" stroke="#ff105a" stroke-width="0.6" points="349.46,68.17 351.96,68.09 351.93,67.47 349.43,67.65"/><polygon fill="#ff1755" stroke="#ff1755" stroke-width="0.6" points="349.43,67.65 351.93,67.47 351.88,66.86 349.38,67.13"/><polygon fill="#ff1f4f" stroke="#ff1f4f" stroke-width="0.6" points="349.38,67.13 351.88,66.86 351.8,66.25 349.32,66.6"/><polygon fill="#ff254a" stroke="#ff254a" stroke-width="0.6" points="349.32,66.6 351.8,66.25 351.71,65.65 349.24,66.08"/><polygon fill="#ff2c44" stroke="#ff2c44" stroke-width="0.6" points="349.24,66.08 351.71,65.65 351.59,65.05 349.14,65.57"/><polygon fill="#ff323e" stroke="#ff323e" stroke-width="0.6" points="349.14,65.57 351.59,65.05 351.45,64.45 349.02,65.06"/><polygon fill="#ff3838" stroke="#ff3838" stroke-width="0.6" points="349.02,65.06 351.45,64.45 351.29,63.86 348.88,64.55"/><polygon fill="#ff3e32" stroke="#ff3e32" stroke-width="0.6" points="348.88,64.55 351.29,63.86 351.11,63.27 348.73,64.04"/><polygon fill="#ff442c" stroke="#ff442c" stroke-width="0.6" points="348.73,64.04 351.11,63.27 350.92,62.69 348.56,63.55"/><polygon fill="#ff4a25" stroke="#ff4a25" stroke-width="0.6" points="348.56,63.55 350.92,62.69 350.7,62.12 348.37,63.06"/><polygon fill="#ff4f1f" stroke="#ff4f1f" stroke-width="0.6" points="348.37,63.06 350.7,62.12 350.46,61.55 348.16,62.57"/><polygon fill="#ff5517" stroke="#ff5517" stroke-width="0.6" points="348.16,62.57 350.46,61.55 350.2,61 347.94,62.1"/><polygon fill="#ff5a10" stroke="#ff5a10" stroke-width="0.6" points="347.94,62.1 350.2,61 349.92,60.45 347.7,61.63"/><polygon fill="#ff5f06" stroke="#ff5f06" stroke-width="0.6" points="347.7,61.63 349.92,60.45 349.62,59.91 347.45,61.17"/><polygon fill="#ff086f" stroke="#ff086f" stroke-width="0.6" points="351.97,68.7 354.49,68.7 354.47,68 351.96,68.09"/><polygon fill="#ff1269" stroke="#ff1269" stroke-width="0.6" points="351.96,68.09 354.47,68 354.44,67.3 351.93,67.47"/><polygon fill="#ff1b63" stroke="#ff1b63" stroke-width="0.6" points="351.93,67.47 354.44,67.3 354.38,66.6 351.88,66.86"/><polygon fill="#ff245c" stroke="#ff245c" stroke-width="0.6" points="351.88,66.86 354.38,66.6 354.29,65.9 351.8,66.25"/><polygon fill="#ff2c56" stroke="#ff2c56" stroke-width="0.6" points="351.8,66.25 354.29,65.9 354.18,65.21 351.71,65.65"/><polygon fill="#ff334f" stroke="#ff334f" stroke-width="0.6" points="351.71,65.65 354.18,65.21 354.05,64.52 351.59,65.05"/><polygon fill="#ff3a48" stroke="#ff3a48" stroke-width="0.6" points="351.59,65.05 354.05,64.52 353.89,63.84 351.45,64.45"/><polygon fill="#ff4242" stroke="#ff4242" stroke-width="0.6" points="351.45,64.45 353.89,63.84 353.71,63.16 351.29,63.86"/><polygon fill="#ff483a" stroke="#ff483a" stroke-width="0.6" points="351.29,63.86 353.71,63.16 353.5,62.49 351.11,63.27"/><polygon fill="#ff4f33" stroke="#ff4f33" stroke-width="0.6" points="351.11,63.27 353.5,62.49 353.27,61.83 350.92,62.69"/><polygon fill="#ff562c" stroke="#ff562c" stroke-width="0.6" points="350.92,62.69 353.27,61.83 353.02,61.18 350.7,62.12"/><polygon fill="#ff5c24" stroke="#ff5c24" stroke-width="0.6" points="350.7,62.12 353.02,61.18 352.75,60.53 350.46,61.55"/><polygon fill="#ff631b" stroke="#ff631b" stroke-width="0.6" points="350.46,61.55 352.75,60.53 352.45,59.9 350.2,61"/><polygon fill="#ff6912" stroke="#ff6912" stroke-width="0.6" points="350.2,61 352.45,59.9 352.13,59.27 349.92,60.45"/><polygon fill="#ff6f08" stroke="#ff6f08" stroke-width="0.6" points="349.92,60.45 352.13,59.27 351.79,58.66 349.62,59.91"/><polygon fill="#ff0980" stroke="#ff0980" stroke-width="0.6" points="354.49,68.7 357,68.7 356.98,67.91 354.47,68"/><polygon fill="#ff1579" stroke="#ff1579" stroke-width="0.6" points="354.47,68 356.98,67.91 356.94,67.12 354.44,67.3"/><polygon fill="#ff1f71" stroke="#ff1f71" stroke-width="0.6" points="354.44,67.3 356.94,67.12 356.87,66.34 354.38,66.6"/><polygon fill="#ff296a" stroke="#ff296a" stroke-width="0.6" points="354.38,66.6 356.87,66.34 356.78,65.56 354.29,65.9"/><polygon fill="#ff3263" stroke="#ff3263" stroke-width="0.6" points="354.29,65.9 356.78,65.56 356.65,64.78 354.18,65.21"/><polygon fill="#ff3b5b" stroke="#ff3b5b" stroke-width="0.6" points="354.18,65.21 356.65,64.78 356.5,64 354.05,64.52"/><polygon fill="#ff4353" stroke="#ff4353" stroke-width="0.6" points="354.05,64.52 356.5,64 356.33,63.23 353.89,63.84"/><polygon fill="#ff4b4b" stroke="#ff4b4b" stroke-width="0.6" points="353.89,63.84 356.33,63.23 356.12,62.47 353.71,63.16"/><polygon fill="#ff5343" stroke="#ff5343" stroke-width="0.6" points="353.71,63.16 356.12,62.47 355.89,61.72 353.5,62.49"/><polygon fill="#ff5b3b" stroke="#ff5b3b" stroke-width="0.6" points="353.5,62.49 355.89,61.72 355.63,60.97 353.27,61.83"/><polygon fill="#ff6332" stroke="#ff6332" stroke-width="0.6" points="353.27,61.83 355.63,60.97 355.35,60.24 353.02,61.18"/><polygon fill="#ff6a29" stroke="#ff6a29" stroke-width="0.6" points="353.02,61.18 355.35,60.24 355.04,59.51 352.75,60.53"/><polygon fill="#ff711f" stroke="#ff711f" stroke-width="0.6" points="352.75,60.53 355.04,59.51 354.71,58.79 352.45,59.9"/><polygon fill="#ff7915" stroke="#ff7915" stroke-width="0.6" points="352.45,59.9 354.71,58.79 354.35,58.09 352.13,59.27"/><polygon fill="#ff8009" stroke="#ff8009" stroke-width="0.6" points="352.13,59.27 354.35,58.09 353.97,57.4 351.79,58.66"/><polygon fill="#ff0a92" stroke="#ff0a92" stroke-width="0.6" points="357,68.7 359.51,68.7 359.49,67.82 356.98,67.91"/><polygon fill="#ff188a" stroke="#ff188a" stroke-width="0.6" points="356.98,67.91 359.49,67.82 359.45,66.95 356.94,67.12"/><polygon fill="#ff2481" stroke="#ff2481" stroke-width="0.6" points="356.94,67.12 359.45,66.95 359.37,66.08 356.87,66.34"/><polygon fill="#ff2f79" stroke="#ff2f79" stroke-width="0.6" points="356.87,66.34 359.37,66.08 359.26,65.21 356.78,65.56"/><polygon fill="#ff3970" stroke="#ff3970" stroke-width="0.6" points="356.78,65.56 359.26,65.21 359.13,64.34 356.65,64.78"/><polygon fill="#ff4368" stroke="#ff4368" stroke-width="0.6" points="356.65,64.78 359.13,64.34 358.96,63.48 356.5,64"/><polygon fill="#ff4d5f" stroke="#ff4d5f" stroke-width="0.6" points="356.5,64 358.96,63.48 358.76,62.63 356.33,63.23"/><polygon fill="#ff5656" stroke="#ff5656" stroke-width="0.6" points="356.33,63.23 358.76,62.63 358.53,61.78 356.12,62.47"/><polygon fill="#ff5f4d" stroke="#ff5f4d" stroke-width="0.6" points="356.12,62.47 358.53,61.78 358.28,60.94 355.89,61.72"/><polygon fill="#ff6843" stroke="#ff6843" stroke-width="0.6" points="355.89,61.72 358.28,60.94 357.99,60.11 355.63,60.97"/><polygon fill="#ff7039" stroke="#ff7039" stroke-width="0.6" points="355.63,60.97 357.99,60.11 357.68,59.29 355.35,60.24"/><polygon fill="#ff792f" stroke="#ff792f" stroke-width="0.6" points="355.35,60.24 357.68,59.29 357.34,58.49 355.04,59.51"/><polygon fill="#ff8124" stroke="#ff8124" stroke-width="0.6" points="355.04,59.51 357.34,58.49 356.97,57.69 354.71,58.79"/><polygon fill="#ff8a18" stroke="#ff8a18" stroke-width="0.6" points="354.71,58.79 356.97,57.69 356.57,56.91 354.35,58.09"/><polygon fill="#ff920a" stroke="#ff920a" stroke-width="0.6" points="354.35,58.09 356.57,56.91 356.14,56.15 353.97,57.4"/><polygon fill="#ff0ba5" stroke="#ff0ba5" stroke-width="0.6" points="359.51,68.7 362.02,68.7 362,67.74 359.49,67.82"/><polygon fill="#ff1b9c" stroke="#ff1b9c" stroke-width="0.6" points="359.49,67.82 362,67.74 361.95,66.77 359.45,66.95"/><polygon fill="#ff2892" stroke="#ff2892" stroke-width="0.6" points="359.45,66.95 361.95,66.77 361.87,65.81 359.37,66.08"/><polygon fill="#ff3589" stroke="#ff3589" stroke-width="0.6" points="359.37,66.08 361.87,65.81 361.75,64.86 359.26,65.21"/><polygon fill="#ff417f" stroke="#ff417f" stroke-width="0.6" points="359.26,65.21 361.75,64.86 361.6,63.9 359.13,64.34"/><polygon fill="#ff4c76" stroke="#ff4c76" stroke-width="0.6" points="359.13,64.34 361.6,63.9 361.41,62.96 358.96,63.48"/><polygon fill="#ff576c" stroke="#ff576c" stroke-width="0.6" points="358.96,63.48 361.41,62.96 361.2,62.02 358.76,62.63"/><polygon fill="#ff6161" stroke="#ff6161" stroke-width="0.6" points="358.76,62.63 361.2,62.02 360.95,61.09 358.53,61.78"/><polygon fill="#ff6c57" stroke="#ff6c57" stroke-width="0.6" points="358.53,61.78 360.95,61.09 360.67,60.17 358.28,60.94"/><polygon fill="#ff764c" stroke="#ff764c" stroke-width="0.6" points="358.28,60.94 360.67,60.17 360.35,59.25 357.99,60.11"/><polygon fill="#ff7f41" stroke="#ff7f41" stroke-width="0.6" points="357.99,60.11 360.35,59.25 360.01,58.35 357.68,59.29"/><polygon fill="#ff8935" stroke="#ff8935" stroke-width="0.6" points="357.68,59.29 360.01,58.35 359.63,57.47 357.34,58.49"/><polygon fill="#ff9228" stroke="#ff9228" stroke-width="0.6" points="357.34,58.49 359.63,57.47 359.22,56.59 356.97,57.69"/><polygon fill="#ff9c1b" stroke="#ff9c1b" stroke-width="0.6" points="356.97,57.69 359.22,56.59 358.79,55.73 356.57,56.91"/><polygon fill="#ffa50b" stroke="#ffa50b" stroke-width="0.6" points="356.57,56.91 358.79,55.73 358.32,54.89 356.14,56.15"/><polygon fill="#ff0dba" stroke="#ff0dba" stroke-width="0.6" points="362.02,68.7 364.53,68.7 364.51,67.65 362,67.74"/><polygon fill="#ff1eb0" stroke="#ff1eb0" stroke-width="0.6" points="362,67.74 364.51,67.65 364.46,66.6 361.95,66.77"/><polygon fill="#ff2ea5" stroke="#ff2ea5" stroke-width="0.6" points="361.95,66.77 364.46,66.6 364.36,65.55 361.87,65.81"/><polygon fill="#ff3c9a" stroke="#ff3c9a" stroke-width="0.6" points="361.87,65.81 364.36,65.55 364.24,64.51 361.75,64.86"/><polygon fill="#ff4990" stroke="#ff4990" stroke-width="0.6" points="361.75,64.86 364.24,64.51 364.07,63.47 361.6,63.9"/><polygon fill="#ff5685" stroke="#ff5685" stroke-width="0.6" points="361.6,63.9 364.07,63.47 363.87,62.44 361.41,62.96"/><polygon fill="#ff6279" stroke="#ff6279" stroke-width="0.6" points="361.41,62.96 363.87,62.44 363.63,61.41 361.2,62.02"/><polygon fill="#ff6e6e" stroke="#ff6e6e" stroke-width="0.6" points="361.2,62.02 363.63,61.41 363.36,60.4 360.95,61.09"/><polygon fill="#ff7962" stroke="#ff7962" stroke-width="0.6" points="360.95,61.09 363.36,60.4 363.05,59.39 360.67,60.17"/><polygon fill="#ff8556" stroke="#ff8556" stroke-width="0.6" points="360.67,60.17 363.05,59.39 362.71,58.4 360.35,59.25"/><polygon fill="#ff9049" stroke="#ff9049" stroke-width="0.6" points="360.35,59.25 362.71,58.4 362.33,57.41 360.01,58.35"/><polygon fill="#ff9a3c" stroke="#ff9a3c" stroke-width="0.6" points="360.01,58.35 362.33,57.41 361.92,56.45 359.63,57.47"/><polygon fill="#ffa52e" stroke="#ffa52e" stroke-width="0.6" points="359.63,57.47 361.92,56.45 361.48,55.49 359.22,56.59"/><polygon fill="#ffb01e" stroke="#ffb01e" stroke-width="0.6" points="359.22,56.59 361.48,55.49 361,54.56 358.79,55.73"/><polygon fill="#ffba0d" stroke="#ffba0d" stroke-width="0.6" points="358.79,55.73 361,54.56 360.49,53.64 358.32,54.89"/><polygon fill="#ff0ed1" stroke="#ff0ed1" stroke-width="0.6" points="364.53,68.7 367.04,68.7 367.02,67.56 364.51,67.65"/><polygon fill="#ff22c5" stroke="#ff22c5" stroke-width="0.6" points="364.51,67.65 367.02,67.56 366.96,66.42 364.46,66.6"/><polygon fill="#ff33ba" stroke="#ff33ba" stroke-width="0.6" points="364.46,66.6 366.96,66.42 366.86,65.29 364.36,65.55"/><polygon fill="#ff43ae" stroke="#ff43ae" stroke-width="0.6" points="364.36,65.55 366.86,65.29 366.72,64.16 364.24,64.51"/><polygon fill="#ff52a1" stroke="#ff52a1" stroke-width="0.6" points="364.24,64.51 366.72,64.16 366.54,63.03 364.07,63.47"/><polygon fill="#ff6095" stroke="#ff6095" stroke-width="0.6" points="364.07,63.47 366.54,63.03 366.33,61.91 363.87,62.44"/><polygon fill="#ff6e88" stroke="#ff6e88" stroke-width="0.6" points="363.87,62.44 366.33,61.91 366.07,60.8 363.63,61.41"/><polygon fill="#ff7b7b" stroke="#ff7b7b" stroke-width="0.6" points="363.63,61.41 366.07,60.8 365.77,59.7 363.36,60.4"/><polygon fill="#ff886e" stroke="#ff886e" stroke-width="0.6" points="363.36,60.4 365.77,59.7 365.44,58.61 363.05,59.39"/><polygon fill="#ff9560" stroke="#ff9560" stroke-width="0.6" points="363.05,59.39 365.44,58.61 365.07,57.54 362.71,58.4"/><polygon fill="#ffa152" stroke="#ffa152" stroke-width="0.6" points="362.71,58.4 365.07,57.54 364.66,56.47 362.33,57.41"/><polygon fill="#ffae43" stroke="#ffae43" stroke-width="0.6" points="362.33,57.41 364.66,56.47 364.22,55.42 361.92,56.45"/><polygon fill="#ffba33" stroke="#ffba33" stroke-width="0.6" points="361.92,56.45 364.22,55.42 363.74,54.39 361.48,55.49"/><polygon fill="#ffc522" stroke="#ffc522" stroke-width="0.6" points="361.48,55.49 363.74,54.39 363.22,53.38 361,54.56"/><polygon fill="#ffd10e" stroke="#ffd10e" stroke-width="0.6" points="361,54.56 363.22,53.38 362.67,52.38 360.49,53.64"/><polygon fill="#ff10ea" stroke="#ff10ea" stroke-width="0.6" points="367.04,68.7 369.55,68.7 369.53,67.47 367.02,67.56"/><polygon fill="#ff26dd" stroke="#ff26dd" stroke-width="0.6" points="367.02,67.56 369.53,67.47 369.46,66.25 366.96,66.42"/><polygon fill="#ff39d0" stroke="#ff39d0" stroke-width="0.6" points="366.96,66.42 369.46,66.25 369.36,65.03 366.86,65.29"/><polygon fill="#ff4bc3" stroke="#ff4bc3" stroke-width="0.6" points="366.86,65.29 369.36,65.03 369.21,63.81 366.72,64.16"/><polygon fill="#ff5cb5" stroke="#ff5cb5" stroke-width="0.6" points="366.72,64.16 369.21,63.81 369.02,62.6 366.54,63.03"/><polygon fill="#ff6ca7" stroke="#ff6ca7" stroke-width="0.6" points="366.54,63.03 369.02,62.6 368.78,61.39 366.33,61.91"/><polygon fill="#ff7b99" stroke="#ff7b99" stroke-width="0.6" points="366.33,61.91 368.78,61.39 368.51,60.2 366.07,60.8"/><polygon fill="#ff8a8a" stroke="#ff8a8a" stroke-width="0.6" points="366.07,60.8 368.51,60.2 368.19,59.01 365.77,59.7"/><polygon fill="#ff997b" stroke="#ff997b" stroke-width="0.6" points="365.77,59.7 368.19,59.01 367.83,57.84 365.44,58.61"/><polygon fill="#ffa76c" stroke="#ffa76c" stroke-width="0.6" points="365.44,58.61 367.83,57.84 367.43,56.68 365.07,57.54"/><polygon fill="#ffb55c" stroke="#ffb55c" stroke-width="0.6" points="365.07,57.54 367.43,56.68 366.99,55.53 364.66,56.47"/><polygon fill="#ffc34b" stroke="#ffc34b" stroke-width="0.6" points="364.66,56.47 366.99,55.53 366.51,54.4 364.22,55.42"/><polygon fill="#ffd039" stroke="#ffd039" stroke-width="0.6" points="364.22,55.42 366.51,54.4 365.99,53.29 363.74,54.39"/><polygon fill="#ffdd26" stroke="#ffdd26" stroke-width="0.6" points="363.74,54.39 365.99,53.29 365.44,52.2 363.22,53.38"/><polygon fill="#ffea10" stroke="#ffea10" stroke-width="0.6" points="363.22,53.38 365.44,52.2 364.84,51.13 362.67,52.38"/><polygon fill="#f711ff" stroke="#f711ff" stroke-width="0.6" points="369.55,68.7 372.06,68.7 372.04,67.39 369.53,67.47"/><polygon fill="#ff2bf8" stroke="#ff2bf8" stroke-width="0.6" points="369.53,67.47 372.04,67.39 371.97,66.07 369.46,66.25"/><polygon fill="#ff40e9" stroke="#ff40e9" stroke-width="0.6" points="369.46,66.25 371.97,66.07 371.85,64.76 369.36,65.03"/><polygon fill="#ff54da" stroke="#ff54da" stroke-width="0.6" points="369.36,65.03 371.85,64.76 371.69,63.46 369.21,63.81"/><polygon fill="#ff67cb" stroke="#ff67cb" stroke-width="0.6" points="369.21,63.81 371.69,63.46 371.49,62.16 369.02,62.6"/><polygon fill="#ff79bb" stroke="#ff79bb" stroke-width="0.6" points="369.02,62.6 371.49,62.16 371.24,60.87 368.78,61.39"/><polygon fill="#ff8aab" stroke="#ff8aab" stroke-width="0.6" points="368.78,61.39 371.24,60.87 370.94,59.59 368.51,60.2"/><polygon fill="#ff9b9b" stroke="#ff9b9b" stroke-width="0.6" points="368.51,60.2 370.94,59.59 370.6,58.32 368.19,59.01"/><polygon fill="#ffab8a" stroke="#ffab8a" stroke-width="0.6" points="368.19,59.01 370.6,58.32 370.22,57.06 367.83,57.84"/><polygon fill="#ffbb79" stroke="#ffbb79" stroke-width="0.6" points="367.83,57.84 370.22,57.06 369.79,55.82 367.43,56.68"/><polygon fill="#ffcb67" stroke="#ffcb67" stroke-width="0.6" points="367.43,56.68 369.79,55.82 369.32,54.59 366.99,55.53"/><polygon fill="#ffda54" stroke="#ffda54" stroke-width="0.6" points="366.99,55.53 369.32,54.59 368.8,53.38 366.51,54.4"/><polygon fill="#ffe940" stroke="#ffe940" stroke-width="0.6" points="366.51,54.4 368.8,53.38 368.25,52.19 365.99,53.29"/><polygon fill="#fff82b" stroke="#fff82b" stroke-width="0.6" points="365.99,53.29 368.25,52.19 367.65,51.02 365.44,52.2"/><polygon fill="#f7ff11" stroke="#f7ff11" stroke-width="0.6" points="365.44,52.2 367.65,51.02 367.02,49.87 364.84,51.13"/><polygon fill="#dd11ff" stroke="#dd11ff" stroke-width="0.6" points="372.06,68.7 374.57,68.7 374.55,67.3 372.04,67.39"/><polygon fill="#ea2cff" stroke="#ea2cff" stroke-width="0.6" points="372.04,67.39 374.55,67.3 374.47,65.9 371.97,66.07"/><polygon fill="#f846ff" stroke="#f846ff" stroke-width="0.6" points="371.97,66.07 374.47,65.9 374.35,64.5 371.85,64.76"/><polygon fill="#ff5ff5" stroke="#ff5ff5" stroke-width="0.6" points="371.85,64.76 374.35,64.5 374.18,63.11 371.69,63.46"/><polygon fill="#ff74e4" stroke="#ff74e4" stroke-width="0.6" points="371.69,63.46 374.18,63.11 373.96,61.72 371.49,62.16"/><polygon fill="#ff88d2" stroke="#ff88d2" stroke-width="0.6" points="371.49,62.16 373.96,61.72 373.69,60.35 371.24,60.87"/><polygon fill="#ff9bc0" stroke="#ff9bc0" stroke-width="0.6" points="371.24,60.87 373.69,60.35 373.38,58.98 370.94,59.59"/><polygon fill="#ffaeae" stroke="#ffaeae" stroke-width="0.6" points="370.94,59.59 373.38,58.98 373.02,57.63 370.6,58.32"/><polygon fill="#ffc09b" stroke="#ffc09b" stroke-width="0.6" points="370.6,58.32 373.02,57.63 372.61,56.29 370.22,57.06"/><polygon fill="#ffd288" stroke="#ffd288" stroke-width="0.6" points="370.22,57.06 372.61,56.29 372.15,54.96 369.79,55.82"/><polygon fill="#ffe474" stroke="#ffe474" stroke-width="0.6" points="369.79,55.82 372.15,54.96 371.65,53.65 369.32,54.59"/><polygon fill="#fff55f" stroke="#fff55f" stroke-width="0.6" points="369.32,54.59 371.65,53.65 371.1,52.36 368.8,53.38"/><polygon fill="#f8ff46" stroke="#f8ff46" stroke-width="0.6" points="368.8,53.38 371.1,52.36 370.51,51.09 368.25,52.19"/><polygon fill="#eaff2c" stroke="#eaff2c" stroke-width="0.6" points="368.25,52.19 370.51,51.09 369.87,49.84 367.65,51.02"/><polygon fill="#ddff11" stroke="#ddff11" stroke-width="0.6" points="367.65,51.02 369.87,49.84 369.19,48.61 367.02,49.87"/><polygon fill="#c411ff" stroke="#c411ff" stroke-width="0.6" points="374.57,68.7 377.08,68.7 377.06,67.21 374.55,67.3"/><polygon fill="#d02cff" stroke="#d02cff" stroke-width="0.6" points="374.55,67.3 377.06,67.21 376.98,65.72 374.47,65.9"/><polygon fill="#dd46ff" stroke="#dd46ff" stroke-width="0.6" points="374.47,65.9 376.98,65.72 376.85,64.24 374.35,64.5"/><polygon fill="#ec62ff" stroke="#ec62ff" stroke-width="0.6" points="374.35,64.5 376.85,64.24 376.67,62.76 374.18,63.11"/><polygon fill="#fe81ff" stroke="#fe81ff" stroke-width="0.6" points="374.18,63.11 376.67,62.76 376.43,61.29 373.96,61.72"/><polygon fill="#ff99ec" stroke="#ff99ec" stroke-width="0.6" points="373.96,61.72 376.43,61.29 376.15,59.83 373.69,60.35"/><polygon fill="#ffaed8" stroke="#ffaed8" stroke-width="0.6" points="373.69,60.35 376.15,59.83 375.81,58.37 373.38,58.98"/><polygon fill="#ffc3c3" stroke="#ffc3c3" stroke-width="0.6" points="373.38,58.98 375.81,58.37 375.43,56.94 373.02,57.63"/><polygon fill="#ffd8ae" stroke="#ffd8ae" stroke-width="0.6" points="373.02,57.63 375.43,56.94 374.99,55.51 372.61,56.29"/><polygon fill="#ffec99" stroke="#ffec99" stroke-width="0.6" points="372.61,56.29 374.99,55.51 374.51,54.1 372.15,54.96"/><polygon fill="#feff81" stroke="#feff81" stroke-width="0.6" points="372.15,54.96 374.51,54.1 373.97,52.71 371.65,53.65"/><polygon fill="#ecff62" stroke="#ecff62" stroke-width="0.6" points="371.65,53.65 373.97,52.71 373.39,51.34 371.1,52.36"/><polygon fill="#ddff46" stroke="#ddff46" stroke-width="0.6" points="371.1,52.36 373.39,51.34 372.76,49.99 370.51,51.09"/><polygon fill="#d0ff2c" stroke="#d0ff2c" stroke-width="0.6" points="370.51,51.09 372.76,49.99 372.09,48.66 369.87,49.84"/><polygon fill="#c4ff11" stroke="#c4ff11" stroke-width="0.6" points="369.87,49.84 372.09,48.66 371.36,47.36 369.19,48.61"/><polygon fill="#ae11ff" stroke="#ae11ff" stroke-width="0.6" points="377.08,68.7 379.59,68.7 379.57,67.12 377.06,67.21"/><polygon fill="#b82cff" stroke="#b82cff" stroke-width="0.6" points="377.06,67.21 379.57,67.12 379.48,65.55 376.98,65.72"/><polygon fill="#c446ff" stroke="#c446ff" stroke-width="0.6" points="376.98,65.72 379.48,65.55 379.35,63.98 376.85,64.24"/><polygon fill="#d262ff" stroke="#d262ff" stroke-width="0.6" points="376.85,64.24 379.35,63.98 379.15,62.41 376.67,62.76"/><polygon fill="#e181ff" stroke="#e181ff" stroke-width="0.6" points="376.67,62.76 379.15,62.41 378.91,60.85 376.43,61.29"/><polygon fill="#f4a5ff" stroke="#f4a5ff" stroke-width="0.6" points="376.43,61.29 378.91,60.85 378.61,59.3 376.15,59.83"/><polygon fill="#ffc5f4" stroke="#ffc5f4" stroke-width="0.6" points="376.15,59.83 378.61,59.3 378.25,57.77 375.81,58.37"/><polygon fill="#ffdcdc" stroke="#ffdcdc" stroke-width="0.6" points="375.81,58.37 378.25,57.77 377.84,56.24 375.43,56.94"/><polygon fill="#fff4c5" stroke="#fff4c5" stroke-width="0.6" points="375.43,56.94 377.84,56.24 377.38,54.73 374.99,55.51"/><polygon fill="#f4ffa5" stroke="#f4ffa5" stroke-width="0.6" points="374.99,55.51 377.38,54.73 376.87,53.24 374.51,54.1"/><polygon fill="#e1ff81" stroke="#e1ff81" stroke-width="0.6" points="374.51,54.1 376.87,53.24 376.3,51.77 373.97,52.71"/><polygon fill="#d2ff62" stroke="#d2ff62" stroke-width="0.6" points="373.97,52.71 376.3,51.77 375.69,50.32 373.39,51.34"/><polygon fill="#c4ff46" stroke="#c4ff46" stroke-width="0.6" points="373.39,51.34 375.69,50.32 375.02,48.89 372.76,49.99"/><polygon fill="#b8ff2c" stroke="#b8ff2c" stroke-width="0.6" points="372.76,49.99 375.02,48.89 374.3,47.48 372.09,48.66"/><polygon fill="#aeff11" stroke="#aeff11" stroke-width="0.6" points="372.09,48.66 374.3,47.48 373.54,46.1 371.36,47.36"/><polygon fill="#9a11ff" stroke="#9a11ff" stroke-width="0.6" points="379.59,68.7 382.1,68.7 382.07,67.04 379.57,67.12"/><polygon fill="#a32cff" stroke="#a32cff" stroke-width="0.6" points="379.57,67.12 382.07,67.04 381.99,65.37 379.48,65.55"/><polygon fill="#ad46ff" stroke="#ad46ff" stroke-width="0.6" points="379.48,65.55 381.99,65.37 381.84,63.71 379.35,63.98"/><polygon fill="#b962ff" stroke="#b962ff" stroke-width="0.6" points="379.35,63.98 381.84,63.71 381.64,62.06 379.15,62.41"/><polygon fill="#c781ff" stroke="#c781ff" stroke-width="0.6" points="379.15,62.41 381.64,62.06 381.38,60.42 378.91,60.85"/><polygon fill="#d8a5ff" stroke="#d8a5ff" stroke-width="0.6" points="378.91,60.85 381.38,60.42 381.06,58.78 378.61,59.3"/><polygon fill="#ecceff" stroke="#ecceff" stroke-width="0.6" points="378.61,59.3 381.06,58.78 380.69,57.16 378.25,57.77"/><polygon fill="#fffafa" stroke="#fffafa" stroke-width="0.6" points="378.25,57.77 380.69,57.16 380.26,55.55 377.84,56.24"/><polygon fill="#ecffce" stroke="#ecffce" stroke-width="0.6" points="377.84,56.24 380.26,55.55 379.77,53.96 377.38,54.73"/><polygon fill="#d8ffa5" stroke="#d8ffa5" stroke-width="0.6" points="377.38,54.73 379.77,53.96 379.23,52.38 376.87,53.24"/><polygon fill="#c7ff81" stroke="#c7ff81" stroke-width="0.6" points="376.87,53.24 379.23,52.38 378.63,50.83 376.3,51.77"/><polygon fill="#b9ff62" stroke="#b9ff62" stroke-width="0.6" points="376.3,51.77 378.63,50.83 377.98,49.3 375.69,50.32"/><polygon fill="#adff46" stroke="#adff46" stroke-width="0.6" points="375.69,50.32 377.98,49.3 377.28,47.79 375.02,48.89"/><polygon fill="#a3ff2c" stroke="#a3ff2c" stroke-width="0.6" points="375.02,48.89 377.28,47.79 376.52,46.3 374.3,47.48"/><polygon fill="#9aff11" stroke="#9aff11" stroke-width="0.6" points="374.3,47.48 376.52,46.3 375.71,44.85 373.54,46.1"/><polygon fill="#8711ff" stroke="#8711ff" stroke-width="0.6" points="382.1,68.7 384.61,68.7 384.58,66.95 382.07,67.04"/><polygon fill="#8f2cff" stroke="#8f2cff" stroke-width="0.6" points="382.07,67.04 384.58,66.95 384.49,65.2 381.99,65.37"/><polygon fill="#9846ff" stroke="#9846ff" stroke-width="0.6" points="381.99,65.37 384.49,65.2 384.34,63.45 381.84,63.71"/><polygon fill="#a262ff" stroke="#a262ff" stroke-width="0.6" points="381.84,63.71 384.34,63.45 384.13,61.71 381.64,62.06"/><polygon fill="#af81ff" stroke="#af81ff" stroke-width="0.6" points="381.64,62.06 384.13,61.71 383.85,59.98 381.38,60.42"/><polygon fill="#bda5ff" stroke="#bda5ff" stroke-width="0.6" points="381.38,60.42 383.85,59.98 383.52,58.26 381.06,58.78"/><polygon fill="#cfceff" stroke="#cfceff" stroke-width="0.6" points="381.06,58.78 383.52,58.26 383.12,56.55 380.69,57.16"/><polygon fill="#e4ffff" stroke="#e4ffff" stroke-width="0.6" points="380.69,57.16 383.12,56.55 382.67,54.86 380.26,55.55"/><polygon fill="#cfffce" stroke="#cfffce" stroke-width="0.6" points="380.26,55.55 382.67,54.86 382.16,53.18 379.77,53.96"/><polygon fill="#bdffa5" stroke="#bdffa5" stroke-width="0.6" points="379.77,53.96 382.16,53.18 381.59,51.53 379.23,52.38"/><polygon fill="#afff81" stroke="#afff81" stroke-width="0.6" points="379.23,52.38 381.59,51.53 380.96,49.89 378.63,50.83"/><polygon fill="#a2ff62" stroke="#a2ff62" stroke-width="0.6" points="378.63,50.83 380.96,49.89 380.27,48.28 377.98,49.3"/><polygon fill="#98ff46" stroke="#98ff46" stroke-width="0.6" points="377.98,49.3 380.27,48.28 379.53,46.69 377.28,47.79"/><polygon fill="#8fff2c" stroke="#8fff2c" stroke-width="0.6" points="377.28,47.79 379.53,46.69 378.74,45.13 376.52,46.3"/><polygon fill="#87ff11" stroke="#87ff11" stroke-width="0.6" points="376.52,46.3 378.74,45.13 377.89,43.59 375.71,44.85"/><polygon fill="#7511ff" stroke="#7511ff" stroke-width="0.6" points="384.61,68.7 387.12,68.7 387.09,66.86 384.58,66.95"/><polygon fill="#7c2cff" stroke="#7c2cff" stroke-width="0.6" points="384.58,66.95 387.09,66.86 387,65.02 384.49,65.2"/><polygon fill="#8446ff" stroke="#8446ff" stroke-width="0.6" points="384.49,65.2 387,65.02 386.84,63.19 384.34,63.45"/><polygon fill="#8d62ff" stroke="#8d62ff" stroke-width="0.6" points="384.34,63.45 386.84,63.19 386.61,61.36 384.13,61.71"/><polygon fill="#9881ff" stroke="#9881ff" stroke-width="0.6" points="384.13,61.71 386.61,61.36 386.32,59.54 383.85,59.98"/><polygon fill="#a4a5ff" stroke="#a4a5ff" stroke-width="0.6" points="383.85,59.98 386.32,59.54 385.97,57.74 383.52,58.26"/><polygon fill="#b4ceff" stroke="#b4ceff" stroke-width="0.6" points="383.52,58.26 385.97,57.74 385.56,55.94 383.12,56.55"/><polygon fill="#c7ffff" stroke="#c7ffff" stroke-width="0.6" points="383.12,56.55 385.56,55.94 385.08,54.17 382.67,54.86"/><polygon fill="#b4ffce" stroke="#b4ffce" stroke-width="0.6" points="382.67,54.86 385.08,54.17 384.54,52.41 382.16,53.18"/><polygon fill="#a4ffa5" stroke="#a4ffa5" stroke-width="0.6" points="382.16,53.18 384.54,52.41 383.95,50.67 381.59,51.53"/><polygon fill="#98ff81" stroke="#98ff81" stroke-width="0.6" points="381.59,51.53 383.95,50.67 383.29,48.95 380.96,49.89"/><polygon fill="#8dff62" stroke="#8dff62" stroke-width="0.6" points="380.96,49.89 383.29,48.95 382.57,47.25 380.27,48.28"/><polygon fill="#84ff46" stroke="#84ff46" stroke-width="0.6" points="380.27,48.28 382.57,47.25 381.79,45.59 379.53,46.69"/><polygon fill="#7cff2c" stroke="#7cff2c" stroke-width="0.6" points="379.53,46.69 381.79,45.59 380.95,43.95 378.74,45.13"/><polygon fill="#75ff11" stroke="#75ff11" stroke-width="0.6" points="378.74,45.13 380.95,43.95 380.06,42.34 377.89,43.59"/><polygon fill="#6511ff" stroke="#6511ff" stroke-width="0.6" points="387.12,68.7 389.64,68.7 389.6,66.77 387.09,66.86"/><polygon fill="#6b2cff" stroke="#6b2cff" stroke-width="0.6" points="387.09,66.86 389.6,66.77 389.5,64.85 387,65.02"/><polygon fill="#7146ff" stroke="#7146ff" stroke-width="0.6" points="387,65.02 389.5,64.85 389.33,62.93 386.84,63.19"/><polygon fill="#7962ff" stroke="#7962ff" stroke-width="0.6" points="386.84,63.19 389.33,62.93 389.1,61.01 386.61,61.36"/><polygon fill="#8281ff" stroke="#8281ff" stroke-width="0.6" points="386.61,61.36 389.1,61.01 388.8,59.11 386.32,59.54"/><polygon fill="#8da5ff" stroke="#8da5ff" stroke-width="0.6" points="386.32,59.54 388.8,59.11 388.43,57.22 385.97,57.74"/><polygon fill="#9aceff" stroke="#9aceff" stroke-width="0.6" points="385.97,57.74 388.43,57.22 387.99,55.34 385.56,55.94"/><polygon fill="#abffff" stroke="#abffff" stroke-width="0.6" points="385.56,55.94 387.99,55.34 387.5,53.47 385.08,54.17"/><polygon fill="#9affce" stroke="#9affce" stroke-width="0.6" points="385.08,54.17 387.5,53.47 386.93,51.63 384.54,52.41"/><polygon fill="#8dffa5" stroke="#8dffa5" stroke-width="0.6" points="384.54,52.41 386.93,51.63 386.3,49.81 383.95,50.67"/><polygon fill="#82ff81" stroke="#82ff81" stroke-width="0.6" points="383.95,50.67 386.3,49.81 385.61,48.01 383.29,48.95"/><polygon fill="#79ff62" stroke="#79ff62" stroke-width="0.6" points="383.29,48.95 385.61,48.01 384.86,46.23 382.57,47.25"/><polygon fill="#71ff46" stroke="#71ff46" stroke-width="0.6" points="382.57,47.25 384.86,46.23 384.05,44.49 381.79,45.59"/><polygon fill="#6bff2c" stroke="#6bff2c" stroke-width="0.6" points="381.79,45.59 384.05,44.49 383.17,42.77 380.95,43.95"/><polygon fill="#65ff11" stroke="#65ff11" stroke-width="0.6" points="380.95,43.95 383.17,42.77 382.24,41.08 380.06,42.34"/><polygon fill="#5511ff" stroke="#5511ff" stroke-width="0.6" points="389.64,68.7 392.15,68.7 392.11,66.68 389.6,66.77"/><polygon fill="#5a2cff" stroke="#5a2cff" stroke-width="0.6" points="389.6,66.77 392.11,66.68 392.01,64.67 389.5,64.85"/><polygon fill="#6046ff" stroke="#6046ff" stroke-width="0.6" points="389.5,64.85 392.01,64.67 391.83,62.66 389.33,62.93"/><polygon fill="#6662ff" stroke="#6662ff" stroke-width="0.6" points="389.33,62.93 391.83,62.66 391.58,60.66 389.1,61.01"/><polygon fill="#6e81ff" stroke="#6e81ff" stroke-width="0.6" points="389.1,61.01 391.58,60.66 391.27,58.67 388.8,59.11"/><polygon fill="#77a5ff" stroke="#77a5ff" stroke-width="0.6" points="388.8,59.11 391.27,58.67 390.88,56.69 388.43,57.22"/><polygon fill="#82ceff" stroke="#82ceff" stroke-width="0.6" points="388.43,57.22 390.88,56.69 390.43,54.73 387.99,55.34"/><polygon fill="#90ffff" stroke="#90ffff" stroke-width="0.6" points="387.99,55.34 390.43,54.73 389.91,52.78 387.5,53.47"/><polygon fill="#82ffce" stroke="#82ffce" stroke-width="0.6" points="387.5,53.47 389.91,52.78 389.32,50.86 386.93,51.63"/><polygon fill="#77ffa5" stroke="#77ffa5" stroke-width="0.6" points="386.93,51.63 389.32,50.86 388.66,48.95 386.3,49.81"/><polygon fill="#6eff81" stroke="#6eff81" stroke-width="0.6" points="386.3,49.81 388.66,48.95 387.94,47.07 385.61,48.01"/><polygon fill="#66ff62" stroke="#66ff62" stroke-width="0.6" points="385.61,48.01 387.94,47.07 387.15,45.21 384.86,46.23"/><polygon fill="#60ff46" stroke="#60ff46" stroke-width="0.6" points="384.86,46.23 387.15,45.21 386.3,43.39 384.05,44.49"/><polygon fill="#5aff2c" stroke="#5aff2c" stroke-width="0.6" points="384.05,44.49 386.3,43.39 385.39,41.59 383.17,42.77"/><polygon fill="#55ff11" stroke="#55ff11" stroke-width="0.6" points="383.17,42.77 385.39,41.59 384.41,39.83 382.24,41.08"/><polygon fill="#4611ff" stroke="#4611ff" stroke-width="0.6" points="392.15,68.7 394.66,68.7 394.62,66.6 392.11,66.68"/><polygon fill="#4a2cff" stroke="#4a2cff" stroke-width="0.6" points="392.11,66.68 394.62,66.6 394.51,64.5 392.01,64.67"/><polygon fill="#4f46ff" stroke="#4f46ff" stroke-width="0.6" points="392.01,64.67 394.51,64.5 394.33,62.4 391.83,62.66"/><polygon fill="#5462ff" stroke="#5462ff" stroke-width="0.6" points="391.83,62.66 394.33,62.4 394.07,60.31 391.58,60.66"/><polygon fill="#5a81ff" stroke="#5a81ff" stroke-width="0.6" points="391.58,60.66 394.07,60.31 393.74,58.24 391.27,58.67"/><polygon fill="#62a5ff" stroke="#62a5ff" stroke-width="0.6" points="391.27,58.67 393.74,58.24 393.34,56.17 390.88,56.69"/><polygon fill="#6bceff" stroke="#6bceff" stroke-width="0.6" points="390.88,56.69 393.34,56.17 392.87,54.12 390.43,54.73"/><polygon fill="#76ffff" stroke="#76ffff" stroke-width="0.6" points="390.43,54.73 392.87,54.12 392.32,52.09 389.91,52.78"/><polygon fill="#6bffce" stroke="#6bffce" stroke-width="0.6" points="389.91,52.78 392.32,52.09 391.71,50.08 389.32,50.86"/><polygon fill="#62ffa5" stroke="#62ffa5" stroke-width="0.6" points="389.32,50.86 391.71,50.08 391.02,48.09 388.66,48.95"/><polygon fill="#5aff81" stroke="#5aff81" stroke-width="0.6" points="388.66,48.95 391.02,48.09 390.27,46.13 387.94,47.07"/><polygon fill="#54ff62" stroke="#54ff62" stroke-width="0.6" points="387.94,47.07 390.27,46.13 389.45,44.19 387.15,45.21"/><polygon fill="#4fff46" stroke="#4fff46" stroke-width="0.6" points="387.15,45.21 389.45,44.19 388.56,42.29 386.3,43.39"/><polygon fill="#4aff2c" stroke="#4aff2c" stroke-width="0.6" points="386.3,43.39 388.56,42.29 387.6,40.41 385.39,41.59"/><polygon fill="#46ff11" stroke="#46ff11" stroke-width="0.6" points="385.39,41.59 387.6,40.41 386.58,38.57 384.41,39.83"/><polygon fill="#3711ff" stroke="#3711ff" stroke-width="0.6" points="394.66,68.7 397.17,68.7 397.13,66.51 394.62,66.6"/><polygon fill="#3a2cff" stroke="#3a2cff" stroke-width="0.6" points="394.62,66.6 397.13,66.51 397.01,64.32 394.51,64.5"/><polygon fill="#3e46ff" stroke="#3e46ff" stroke-width="0.6" points="394.51,64.5 397.01,64.32 396.82,62.14 394.33,62.4"/><polygon fill="#4262ff" stroke="#4262ff" stroke-width="0.6" points="394.33,62.4 396.82,62.14 396.56,59.96 394.07,60.31"/><polygon fill="#4881ff" stroke="#4881ff" stroke-width="0.6" points="394.07,60.31 396.56,59.96 396.21,57.8 393.74,58.24"/><polygon fill="#4da5ff" stroke="#4da5ff" stroke-width="0.6" points="393.74,58.24 396.21,57.8 395.8,55.65 393.34,56.17"/><polygon fill="#55ceff" stroke="#55ceff" stroke-width="0.6" points="393.34,56.17 395.8,55.65 395.3,53.52 392.87,54.12"/><polygon fill="#5effff" stroke="#5effff" stroke-width="0.6" points="392.87,54.12 395.3,53.52 394.74,51.4 392.32,52.09"/><polygon fill="#55ffce" stroke="#55ffce" stroke-width="0.6" points="392.32,52.09 394.74,51.4 394.1,49.3 391.71,50.08"/><polygon fill="#4dffa5" stroke="#4dffa5" stroke-width="0.6" points="391.71,50.08 394.1,49.3 393.38,47.23 391.02,48.09"/><polygon fill="#48ff81" stroke="#48ff81" stroke-width="0.6" points="391.02,48.09 393.38,47.23 392.6,45.19 390.27,46.13"/><polygon fill="#42ff62" stroke="#42ff62" stroke-width="0.6" points="390.27,46.13 392.6,45.19 391.74,43.17 389.45,44.19"/><polygon fill="#3eff46" stroke="#3eff46" stroke-width="0.6" points="389.45,44.19 391.74,43.17 390.82,41.18 388.56,42.29"/><polygon fill="#3aff2c" stroke="#3aff2c" stroke-width="0.6" points="388.56,42.29 390.82,41.18 389.82,39.23 387.6,40.41"/><polygon fill="#37ff11" stroke="#37ff11" stroke-width="0.6" points="387.6,40.41 389.82,39.23 388.76,37.32 386.58,38.57"/><polygon fill="#2911ff" stroke="#2911ff" stroke-width="0.6" points="397.17,68.7 399.68,68.7 399.64,66.42 397.13,66.51"/><polygon fill="#2b2cff" stroke="#2b2cff" stroke-width="0.6" points="397.13,66.51 399.64,66.42 399.52,64.15 397.01,64.32"/><polygon fill="#2e46ff" stroke="#2e46ff" stroke-width="0.6" points="397.01,64.32 399.52,64.15 399.32,61.88 396.82,62.14"/><polygon fill="#3162ff" stroke="#3162ff" stroke-width="0.6" points="396.82,62.14 399.32,61.88 399.04,59.61 396.56,59.96"/><polygon fill="#3581ff" stroke="#3581ff" stroke-width="0.6" points="396.56,59.96 399.04,59.61 398.69,57.36 396.21,57.8"/><polygon fill="#39a5ff" stroke="#39a5ff" stroke-width="0.6" points="396.21,57.8 398.69,57.36 398.25,55.13 395.8,55.65"/><polygon fill="#3fceff" stroke="#3fceff" stroke-width="0.6" points="395.8,55.65 398.25,55.13 397.74,52.91 395.3,53.52"/><polygon fill="#45ffff" stroke="#45ffff" stroke-width="0.6" points="395.3,53.52 397.74,52.91 397.15,50.71 394.74,51.4"/><polygon fill="#3fffce" stroke="#3fffce" stroke-width="0.6" points="394.74,51.4 397.15,50.71 396.48,48.53 394.1,49.3"/><polygon fill="#39ffa5" stroke="#39ffa5" stroke-width="0.6" points="394.1,49.3 396.48,48.53 395.74,46.37 393.38,47.23"/><polygon fill="#35ff81" stroke="#35ff81" stroke-width="0.6" points="393.38,47.23 395.74,46.37 394.93,44.25 392.6,45.19"/><polygon fill="#31ff62" stroke="#31ff62" stroke-width="0.6" points="392.6,45.19 394.93,44.25 394.03,42.15 391.74,43.17"/><polygon fill="#2eff46" stroke="#2eff46" stroke-width="0.6" points="391.74,43.17 394.03,42.15 393.07,40.08 390.82,41.18"/><polygon fill="#2bff2c" stroke="#2bff2c" stroke-width="0.6" points="390.82,41.18 393.07,40.08 392.04,38.05 389.82,39.23"/><polygon fill="#29ff11" stroke="#29ff11" stroke-width="0.6" points="389.82,39.23 392.04,38.05 390.93,36.06 388.76,37.32"/><polygon fill="#1a11ff" stroke="#1a11ff" stroke-width="0.6" points="399.68,68.7 402.19,68.7 402.15,66.33 399.64,66.42"/><polygon fill="#1c2cff" stroke="#1c2cff" stroke-width="0.6" points="399.64,66.42 402.15,66.33 402.02,63.97 399.52,64.15"/><polygon fill="#1e46ff" stroke="#1e46ff" stroke-width="0.6" points="399.52,64.15 402.02,63.97 401.82,61.61 399.32,61.88"/><polygon fill="#2062ff" stroke="#2062ff" stroke-width="0.6" points="399.32,61.88 401.82,61.61 401.53,59.27 399.04,59.61"/><polygon fill="#2281ff" stroke="#2281ff" stroke-width="0.6" points="399.04,59.61 401.53,59.27 401.16,56.93 398.69,57.36"/><polygon fill="#25a5ff" stroke="#25a5ff" stroke-width="0.6" points="398.69,57.36 401.16,56.93 400.71,54.61 398.25,55.13"/><polygon fill="#28ceff" stroke="#28ceff" stroke-width="0.6" points="398.25,55.13 400.71,54.61 400.18,52.3 397.74,52.91"/><polygon fill="#2dffff" stroke="#2dffff" stroke-width="0.6" points="397.74,52.91 400.18,52.3 399.56,50.01 397.15,50.71"/><polygon fill="#28ffce" stroke="#28ffce" stroke-width="0.6" points="397.15,50.71 399.56,50.01 398.87,47.75 396.48,48.53"/><polygon fill="#25ffa5" stroke="#25ffa5" stroke-width="0.6" points="396.48,48.53 398.87,47.75 398.1,45.51 395.74,46.37"/><polygon fill="#22ff81" stroke="#22ff81" stroke-width="0.6" points="395.74,46.37 398.1,45.51 397.25,43.31 394.93,44.25"/><polygon fill="#20ff62" stroke="#20ff62" stroke-width="0.6" points="394.93,44.25 397.25,43.31 396.33,41.13 394.03,42.15"/><polygon fill="#1eff46" stroke="#1eff46" stroke-width="0.6" points="394.03,42.15 396.33,41.13 395.33,38.98 393.07,40.08"/><polygon fill="#1cff2c" stroke="#1cff2c" stroke-width="0.6" points="393.07,40.08 395.33,38.98 394.25,36.87 392.04,38.05"/><polygon fill="#1aff11" stroke="#1aff11" stroke-width="0.6" points="392.04,38.05 394.25,36.87 393.11,34.81 390.93,36.06"/><polygon fill="#0b11ff" stroke="#0b11ff" stroke-width="0.6" points="402.19,68.7 404.7,68.7 404.66,66.25 402.15,66.33"/><polygon fill="#0b2cff" stroke="#0b2cff" stroke-width="0.6" points="402.15,66.33 404.66,66.25 404.53,63.8 402.02,63.97"/><polygon fill="#0c46ff" stroke="#0c46ff" stroke-width="0.6" points="402.02,63.97 404.53,63.8 404.31,61.35 401.82,61.61"/><polygon fill="#0d62ff" stroke="#0d62ff" stroke-width="0.6" points="401.82,61.61 404.31,61.35 404.02,58.92 401.53,59.27"/><polygon fill="#0e81ff" stroke="#0e81ff" stroke-width="0.6" points="401.53,59.27 404.02,58.92 403.63,56.49 401.16,56.93"/><polygon fill="#0fa5ff" stroke="#0fa5ff" stroke-width="0.6" points="401.16,56.93 403.63,56.49 403.16,54.08 400.71,54.61"/><polygon fill="#10ceff" stroke="#10ceff" stroke-width="0.6" points="400.71,54.61 403.16,54.08 402.61,51.69 400.18,52.3"/><polygon fill="#12ffff" stroke="#12ffff" stroke-width="0.6" points="400.18,52.3 402.61,51.69 401.98,49.32 399.56,50.01"/><polygon fill="#10ffce" stroke="#10ffce" stroke-width="0.6" points="399.56,50.01 401.98,49.32 401.26,46.98 398.87,47.75"/><polygon fill="#0fffa5" stroke="#0fffa5" stroke-width="0.6" points="398.87,47.75 401.26,46.98 400.46,44.66 398.1,45.51"/><polygon fill="#0eff81" stroke="#0eff81" stroke-width="0.6" points="398.1,45.51 400.46,44.66 399.58,42.37 397.25,43.31"/><polygon fill="#0dff62" stroke="#0dff62" stroke-width="0.6" points="397.25,43.31 399.58,42.37 398.62,40.11 396.33,41.13"/><polygon fill="#0cff46" stroke="#0cff46" stroke-width="0.6" points="396.33,41.13 398.62,40.11 397.59,37.88 395.33,38.98"/><polygon fill="#0bff2c" stroke="#0bff2c" stroke-width="0.6" points="395.33,38.98 397.59,37.88 396.47,35.7 394.25,36.87"/><polygon fill="#0bff11" stroke="#0bff11" stroke-width="0.6" points="394.25,36.87 396.47,35.7 395.28,33.55 393.11,34.81"/></g>
<text x="384" y="32.2" font-size="11" fill="#222">2<tspan>1</tspan><tspan>1</tspan>0</text>
<rect x="390.6" y="22.2" width="3.4" height="1" fill="#222"/><rect x="395.6" y="22.2" width="3.4" height="1" fill="#222"/>
<text x="323" y="81.6" font-size="11" fill="#222">0001</text>
<text x="384.5" y="81.6" font-size="11" fill="#222">1010</text>
<rect x="396.2" y="72" width="4.4" height="0.9" fill="#222"/>
<text x="331.5" y="101" font-size="14.5" fill="#111">Min</text>
<text x="378.3" y="101" font-size="14.5" fill="#111">Max</text>
<rect x="330.5" y="104" width="27" height="1.2" fill="#111"/>
<rect x="378" y="104" width="28.5" height="1.2" fill="#111"/>
<rect x="319.5" y="112.4" width="11" height="1.7" fill="#111"/>
<text x="335" y="118.2" font-size="14.5" fill="#111">15°</text>
<text x="379.8" y="118.2" font-size="14.5" fill="#111">180°</text>
<rect x="320" y="128.4" width="10.5" height="1.4" fill="#aaa"/>
<text x="339" y="133.4" font-size="14.5" fill="#111">2°</text>
<text x="385" y="133.4" font-size="14.5" fill="#111">15°</text>
<rect x="57" y="296.3" width="9.4" height="1.6" fill="#ff8a40"/><rect x="60.9" y="292.6" width="1.6" height="9.4" fill="#ff8a40"/>
<g fill="#fff">
<rect x="41.8" y="325" width="4.6" height="70.2"/>
<rect x="41.8" y="390.5" width="68" height="4.7"/>
<polygon points="43.9,301.5 53.8,331.5 34,331.5"/>
<polygon points="135.5,392.8 105.5,383.6 105.5,402"/>
</g>
<text x="21.3" y="287.9" font-size="33.6" fill="#fff">TD</text>
<text x="149" y="403" font-size="33" fill="#fff">ED</text>
<text x="307" y="390.2" font-size="40" letter-spacing="0.7" fill="#fff">50μm</text>
<rect x="306" y="405" width="102" height="6" fill="#fff"/>
<text x="424.3" y="41.2" font-size="27.5" fill="#111">(b)</text>
<text x="509.6" y="42.8" font-size="21" fill="#111">TD</text>
<text x="624.5" y="149.8" font-size="20.6" fill="#111">ED</text>
<text x="502" y="251" font-size="20" fill="#111">0001</text>
<g clip-path="url(#pc)"><g filter="url(#pf)">
<rect x="430" y="50" width="190" height="190" fill="#000"/>
<ellipse cx="514.5" cy="118" rx="6" ry="13" fill="rgb(84,84,84)" style="mix-blend-mode:screen"/>
<ellipse cx="515" cy="104" rx="4" ry="4" fill="rgb(56,56,56)" style="mix-blend-mode:screen"/>
<ellipse cx="537" cy="118" rx="12" ry="10" fill="rgb(76,76,76)" style="mix-blend-mode:screen"/>
<ellipse cx="551" cy="130" rx="7" ry="6" fill="rgb(56,56,56)" style="mix-blend-mode:screen"/>
<ellipse cx="544" cy="127" rx="7" ry="6" fill="rgb(66,66,66)" style="mix-blend-mode:screen"/>
<ellipse cx="527" cy="128" rx="14" ry="6" fill="rgb(76,76,76)" style="mix-blend-mode:screen"/>
<ellipse cx="523" cy="136" rx="10" ry="7" fill="rgb(158,158,158)" style="mix-blend-mode:screen"/>
<ellipse cx="521.5" cy="136.5" rx="5" ry="3.8" fill="rgb(255,255,255)" style="mix-blend-mode:screen"/>
<ellipse cx="533" cy="135" rx="8.5" ry="4.2" fill="rgb(143,143,143)" style="mix-blend-mode:screen"/>
<ellipse cx="540.5" cy="134.5" rx="4.5" ry="3" fill="rgb(115,115,115)" style="mix-blend-mode:screen"/>
<ellipse cx="563" cy="128" rx="12" ry="9" fill="rgb(31,31,31)" style="mix-blend-mode:screen"/>
<ellipse cx="529" cy="93" rx="5" ry="5" fill="rgb(26,26,26)" style="mix-blend-mode:screen"/>
<ellipse cx="517" cy="147.5" rx="7" ry="4" fill="rgb(87,87,87)" style="mix-blend-mode:screen"/>
<ellipse cx="511.5" cy="157" rx="5.5" ry="6.5" fill="rgb(76,76,76)" style="mix-blend-mode:screen"/>
<ellipse cx="527" cy="160" rx="6.5" ry="6.5" fill="rgb(76,76,76)" style="mix-blend-mode:screen"/>
<ellipse cx="520" cy="158" rx="5" ry="5" fill="rgb(51,51,51)" style="mix-blend-mode:screen"/>
<ellipse cx="564" cy="181.5" rx="4" ry="4" fill="rgb(33,33,33)" style="mix-blend-mode:screen"/>
<ellipse cx="511.5" cy="205.7" rx="5" ry="4" fill="rgb(38,38,38)" style="mix-blend-mode:screen"/>
<ellipse cx="550" cy="139" rx="8" ry="3" fill="rgb(38,38,38)" style="mix-blend-mode:screen"/>
</g></g>
<circle cx="522.6" cy="143.4" r="85.2" fill="none" stroke="#1a1a60" stroke-width="0.7"/>
<rect x="437" y="142.9" width="171" height="1" fill="#141448"/>
<rect x="522.2" y="58" width="1" height="171" fill="#141448"/>
<text x="465.6" y="180.8" font-size="27.1" fill="#fff">Max=20.9</text>
<text x="425.8" y="252.5" font-size="26.5" fill="#111">(c)</text>
<rect x="469.2" y="391.88" width="19" height="2.52" fill="#ff4646"/>
<rect x="489.8" y="312" width="19" height="82.4" fill="#ff4646"/>
<rect x="510.4" y="305.95" width="19" height="88.45" fill="#ff4646"/>
<rect x="531" y="344" width="19" height="50.4" fill="#ff4646"/>
<rect x="551.6" y="374.74" width="19" height="19.66" fill="#ff4646"/>
<rect x="572.2" y="389.36" width="19" height="5.04" fill="#ff4646"/>
<rect x="592.8" y="390.12" width="19" height="4.28" fill="#ff4646"/>
<polyline fill="none" stroke="#6a5cf0" stroke-width="1.2" points="468.4,387.8 469.43,387.13 470.46,386.4 471.49,385.62 472.52,384.77 473.55,383.87 474.58,382.9 475.61,381.87 476.64,380.77 477.67,379.6 478.7,378.36 479.73,377.05 480.76,375.67 481.79,374.21 482.82,372.68 483.85,371.08 484.88,369.4 485.91,367.66 486.94,365.85 487.97,363.97 489,362.03 490.03,360.02 491.06,357.97 492.09,355.86 493.12,353.7 494.15,351.5 495.18,349.27 496.21,347.01 497.24,344.73 498.27,342.44 499.3,340.14 500.33,337.84 501.36,335.56 502.39,333.3 503.42,331.07 504.45,328.88 505.48,326.74 506.51,324.66 507.54,322.64 508.57,320.71 509.6,318.87 510.63,317.12 511.66,315.48 512.69,313.96 513.72,312.56 514.75,311.28 515.78,310.15 516.81,309.16 517.84,308.31 518.87,307.62 519.9,307.09 520.93,306.72 521.96,306.5 522.99,306.46 524.02,306.57 525.05,306.85 526.08,307.28 527.11,307.88 528.14,308.63 529.17,309.54 530.2,310.59 531.23,311.78 532.26,313.1 533.29,314.55 534.32,316.13 535.35,317.81 536.38,319.59 537.41,321.47 538.44,323.44 539.47,325.48 540.5,327.59 541.53,329.75 542.56,331.95 543.59,334.2 544.62,336.47 545.65,338.76 546.68,341.06 547.71,343.35 548.74,345.64 549.77,347.92 550.8,350.17 551.83,352.39 552.86,354.57 553.89,356.71 554.92,358.8 555.95,360.83 556.98,362.81 558.01,364.73 559.04,366.58 560.07,368.37 561.1,370.08 562.13,371.73 563.16,373.3 564.19,374.8 565.22,376.23 566.25,377.58 567.28,378.87 568.31,380.08 569.34,381.22 570.37,382.29 571.4,383.3 572.43,384.24 573.46,385.12 574.49,385.94 575.52,386.7 576.55,387.4 577.58,388.06 578.61,388.66 579.64,389.21 580.67,389.72 581.7,390.19 582.73,390.62 583.76,391.01 584.79,391.37 585.82,391.69 586.85,391.98 587.88,392.25 588.91,392.49 589.94,392.7 590.97,392.9 592,393.07 593.03,393.23 594.06,393.37 595.09,393.5 596.12,393.61 597.15,393.71 598.18,393.79"/>
<rect x="468.4" y="268.4" width="164.8" height="126" fill="none" stroke="#777" stroke-width="1"/>
<rect x="465.4" y="393.95" width="3" height="0.9" fill="#777"/>
<text x="465.4" y="398.4" font-size="11.5" fill="#555" text-anchor="end">0</text>
<rect x="465.4" y="368.75" width="3" height="0.9" fill="#777"/>
<text x="465.4" y="373.2" font-size="11.5" fill="#555" text-anchor="end">10</text>
<rect x="465.4" y="343.55" width="3" height="0.9" fill="#777"/>
<text x="465.4" y="348" font-size="11.5" fill="#555" text-anchor="end">20</text>
<rect x="465.4" y="318.35" width="3" height="0.9" fill="#777"/>
<text x="465.4" y="322.8" font-size="11.5" fill="#555" text-anchor="end">30</text>
<rect x="465.4" y="293.15" width="3" height="0.9" fill="#777"/>
<text x="465.4" y="297.6" font-size="11.5" fill="#555" text-anchor="end">40</text>
<rect x="465.4" y="267.95" width="3" height="0.9" fill="#777"/>
<text x="465.4" y="272.4" font-size="11.5" fill="#555" text-anchor="end">50</text>
<rect x="467.95" y="394.4" width="0.9" height="3" fill="#777"/>
<text x="468.4" y="407.4" font-size="11.5" fill="#555" text-anchor="middle">0</text>
<rect x="509.15" y="394.4" width="0.9" height="3" fill="#777"/>
<text x="509.6" y="407.4" font-size="11.5" fill="#555" text-anchor="middle">20</text>
<rect x="550.35" y="394.4" width="0.9" height="3" fill="#777"/>
<text x="550.8" y="407.4" font-size="11.5" fill="#555" text-anchor="middle">40</text>
<rect x="591.55" y="394.4" width="0.9" height="3" fill="#777"/>
<text x="592" y="407.4" font-size="11.5" fill="#555" text-anchor="middle">60</text>
<rect x="632.75" y="394.4" width="0.9" height="3" fill="#777"/>
<text x="633.2" y="407.4" font-size="11.5" fill="#555" text-anchor="middle">80</text>
<text x="501" y="422.8" font-size="14.2" fill="#555">Grain Size (μm)</text>
<text transform="translate(445.3,377) rotate(-90)" font-size="14" fill="#555">Frequency (%)</text>
<text x="527" y="284.8" font-size="16" fill="#4a4a4a">d</text>
<text x="536" y="286.8" font-size="15.5" fill="#4a4a4a">ave</text>
<rect x="564.7" y="277.1" width="9.8" height="1.6" fill="#4a4a4a"/><rect x="564.7" y="280.1" width="9.8" height="1.6" fill="#4a4a4a"/>
<text x="578.3" y="284.5" font-size="16" letter-spacing="0.5" fill="#4a4a4a">26.2μm</text>
</svg></body></html>
